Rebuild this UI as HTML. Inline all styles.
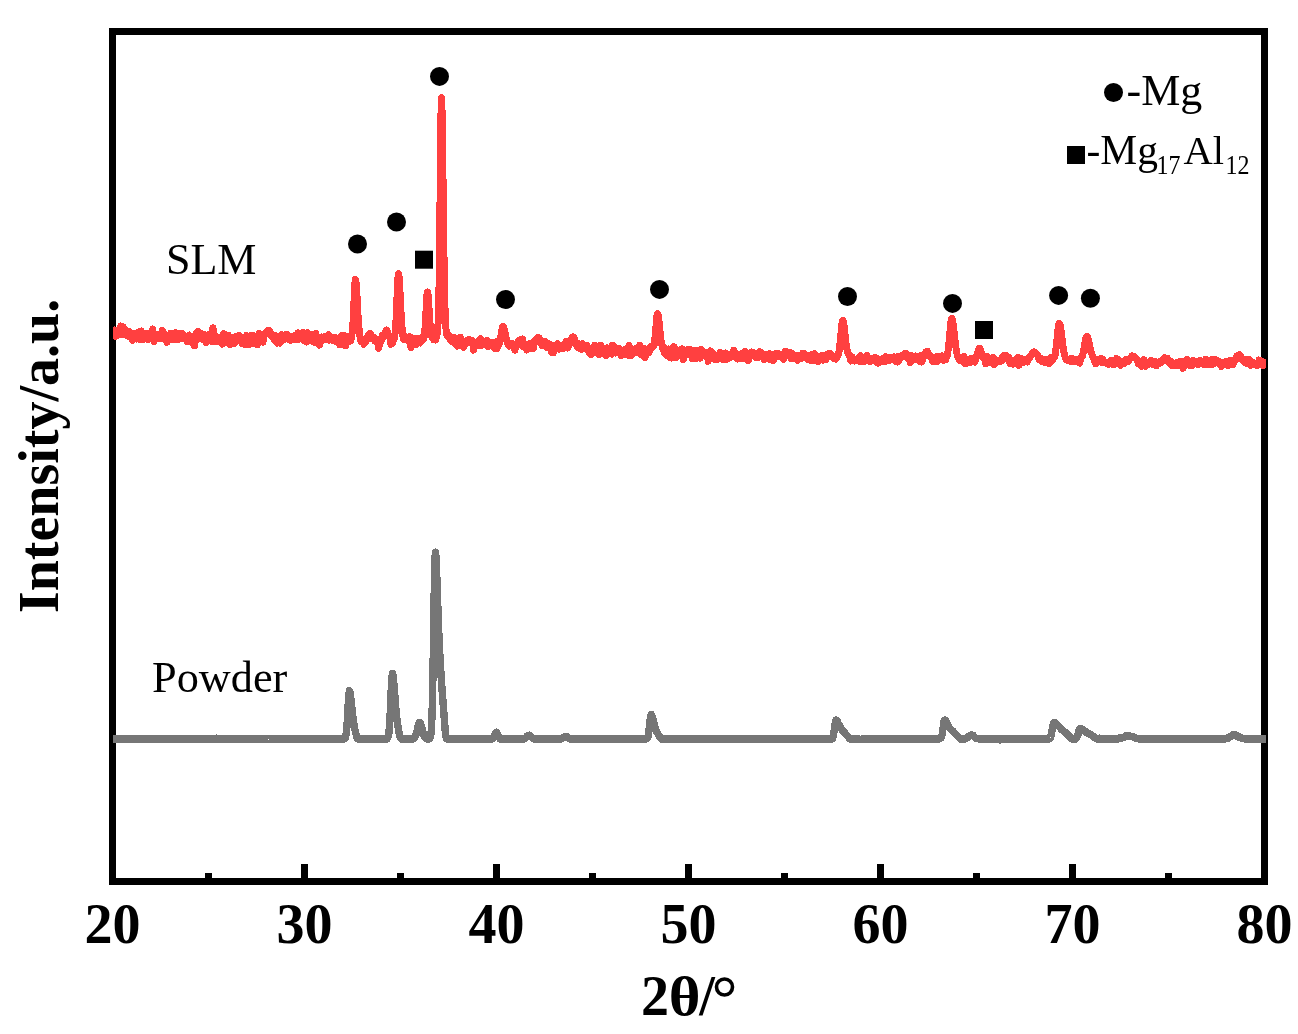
<!DOCTYPE html>
<html><head><meta charset="utf-8"><title>XRD</title>
<style>html,body{margin:0;padding:0;background:#fff;}svg{display:block;will-change:transform;}text{font-family:"Liberation Serif",serif;}</style>
</head><body>
<svg width="1298" height="1034" viewBox="0 0 1298 1034"><rect width="1298" height="1034" fill="#fff"/><rect x="112.5" y="31.5" width="1152" height="850" fill="none" stroke="#000" stroke-width="7"/><defs><clipPath id="pc"><rect x="113" y="0" width="1153" height="1034"/></clipPath></defs><polyline fill="none" stroke="#767676" stroke-width="7.4" clip-path="url(#pc)" stroke-linejoin="round" shape-rendering="crispEdges" points="113.0,739.0 113.5,739.0 114.0,739.0 114.5,739.0 115.0,739.0 115.5,739.0 116.0,739.0 116.5,739.0 117.0,739.0 117.5,739.0 118.0,738.9 118.5,739.1 119.0,738.7 119.5,739.5 120.0,738.5 120.5,739.3 121.0,739.3 121.5,739.2 122.0,739.0 122.5,739.1 123.0,738.8 123.5,739.2 124.0,738.8 124.5,738.9 125.0,739.2 125.5,738.8 126.0,738.9 126.5,739.0 127.0,738.7 127.5,739.2 128.0,739.1 128.5,738.7 129.0,739.0 129.5,738.8 130.0,738.9 130.5,739.0 131.0,738.9 131.5,739.2 132.0,738.9 132.5,739.2 133.0,739.0 133.5,739.2 134.0,738.9 134.5,738.9 135.0,738.8 135.5,739.1 136.0,739.2 136.5,739.4 137.0,739.3 137.5,739.0 138.0,739.0 138.5,739.1 139.0,739.0 139.5,739.3 140.0,739.2 140.5,738.8 141.0,738.9 141.5,739.3 142.0,739.1 142.5,739.0 143.0,739.2 143.5,738.9 144.0,738.9 144.5,738.9 145.0,738.6 145.5,739.2 146.0,738.8 146.5,738.9 147.0,738.9 147.5,739.1 148.0,739.0 148.5,739.0 149.0,738.7 149.5,739.0 150.0,738.7 150.5,739.1 151.0,739.1 151.5,739.0 152.0,739.4 152.5,739.1 153.0,739.1 153.5,739.0 154.0,739.0 154.5,739.2 155.0,739.2 155.5,738.7 156.0,739.2 156.5,739.1 157.0,739.2 157.5,739.1 158.0,738.8 158.5,738.8 159.0,739.4 159.5,739.1 160.0,738.7 160.5,739.1 161.0,738.9 161.5,738.6 162.0,738.5 162.5,738.7 163.0,739.1 163.5,739.0 164.0,739.0 164.5,739.1 165.0,739.1 165.5,738.6 166.0,738.9 166.5,738.8 167.0,738.8 167.5,738.9 168.0,739.0 168.5,738.9 169.0,738.7 169.5,738.9 170.0,739.4 170.5,738.8 171.0,738.7 171.5,739.1 172.0,739.1 172.5,739.1 173.0,738.8 173.5,739.2 174.0,738.8 174.5,738.8 175.0,738.9 175.5,739.0 176.0,739.1 176.5,739.1 177.0,739.0 177.5,739.2 178.0,739.0 178.5,739.2 179.0,738.7 179.5,738.7 180.0,739.2 180.5,738.7 181.0,738.9 181.5,739.0 182.0,738.9 182.5,738.9 183.0,739.3 183.5,738.5 184.0,739.2 184.5,739.5 185.0,739.0 185.5,739.0 186.0,739.1 186.5,739.4 187.0,738.8 187.5,739.0 188.0,739.0 188.5,739.1 189.0,739.0 189.5,739.1 190.0,738.9 190.5,739.0 191.0,738.9 191.5,738.9 192.0,739.0 192.5,739.0 193.0,738.8 193.5,739.3 194.0,739.0 194.5,738.7 195.0,739.2 195.5,738.9 196.0,739.1 196.5,739.0 197.0,739.1 197.5,739.0 198.0,738.9 198.5,739.0 199.0,739.4 199.5,738.6 200.0,739.0 200.5,739.1 201.0,738.8 201.5,738.7 202.0,739.4 202.5,738.9 203.0,739.4 203.5,739.1 204.0,739.0 204.5,739.1 205.0,739.1 205.5,739.2 206.0,739.1 206.5,739.0 207.0,739.0 207.5,739.3 208.0,739.2 208.5,738.8 209.0,738.9 209.5,739.1 210.0,738.9 210.5,738.9 211.0,738.8 211.5,738.9 212.0,739.1 212.5,739.2 213.0,739.0 213.5,739.4 214.0,739.0 214.5,739.6 215.0,739.2 215.5,739.1 216.0,738.9 216.5,738.4 217.0,739.0 217.5,739.0 218.0,739.4 218.5,738.7 219.0,739.4 219.5,738.9 220.0,739.1 220.5,738.5 221.0,739.0 221.5,738.9 222.0,739.1 222.5,739.0 223.0,738.8 223.5,739.2 224.0,739.1 224.5,739.1 225.0,739.2 225.5,739.2 226.0,739.0 226.5,738.7 227.0,738.7 227.5,739.3 228.0,739.1 228.5,739.0 229.0,738.9 229.5,739.0 230.0,739.0 230.5,738.9 231.0,738.9 231.5,739.4 232.0,739.0 232.5,738.9 233.0,738.7 233.5,738.9 234.0,739.1 234.5,739.2 235.0,739.0 235.5,739.0 236.0,738.9 236.5,738.8 237.0,739.3 237.5,739.1 238.0,739.5 238.5,738.8 239.0,739.0 239.5,739.2 240.0,739.0 240.5,738.7 241.0,738.8 241.5,739.0 242.0,739.1 242.5,739.0 243.0,739.2 243.5,739.2 244.0,739.1 244.5,739.0 245.0,738.9 245.5,739.1 246.0,739.2 246.5,739.0 247.0,739.1 247.5,738.9 248.0,738.7 248.5,738.8 249.0,739.2 249.5,739.1 250.0,739.3 250.5,739.0 251.0,739.2 251.5,739.3 252.0,739.2 252.5,738.9 253.0,739.0 253.5,739.0 254.0,738.8 254.5,739.1 255.0,739.2 255.5,738.9 256.0,739.4 256.5,738.9 257.0,739.0 257.5,739.0 258.0,738.9 258.5,739.1 259.0,739.0 259.5,739.3 260.0,739.1 260.5,739.1 261.0,739.0 261.5,738.7 262.0,739.0 262.5,738.8 263.0,739.2 263.5,739.0 264.0,739.3 264.5,739.1 265.0,739.2 265.5,739.0 266.0,739.0 266.5,739.1 267.0,739.2 267.5,738.9 268.0,739.1 268.5,739.5 269.0,739.0 269.5,738.9 270.0,738.9 270.5,738.7 271.0,739.2 271.5,739.0 272.0,739.1 272.5,739.4 273.0,739.5 273.5,738.8 274.0,739.2 274.5,739.1 275.0,739.1 275.5,739.1 276.0,739.0 276.5,739.3 277.0,739.1 277.5,739.1 278.0,739.2 278.5,739.2 279.0,739.1 279.5,739.1 280.0,739.4 280.5,739.1 281.0,739.0 281.5,738.8 282.0,738.9 282.5,738.8 283.0,739.0 283.5,739.1 284.0,738.6 284.5,739.0 285.0,739.1 285.5,739.0 286.0,738.8 286.5,739.3 287.0,738.9 287.5,738.8 288.0,738.8 288.5,739.0 289.0,739.2 289.5,739.2 290.0,739.0 290.5,738.8 291.0,738.9 291.5,738.8 292.0,739.0 292.5,738.6 293.0,739.0 293.5,739.1 294.0,739.0 294.5,739.1 295.0,738.8 295.5,738.7 296.0,738.9 296.5,739.2 297.0,739.2 297.5,738.9 298.0,739.2 298.5,738.9 299.0,739.3 299.5,739.1 300.0,738.9 300.5,739.2 301.0,738.8 301.5,738.8 302.0,738.7 302.5,739.1 303.0,739.0 303.5,739.0 304.0,738.9 304.5,739.3 305.0,738.9 305.5,738.9 306.0,739.2 306.5,739.3 307.0,739.1 307.5,738.7 308.0,738.9 308.5,739.1 309.0,739.0 309.5,739.3 310.0,738.7 310.5,739.1 311.0,738.9 311.5,739.3 312.0,739.0 312.5,739.2 313.0,738.9 313.5,738.7 314.0,738.8 314.5,738.9 315.0,738.8 315.5,739.2 316.0,739.3 316.5,739.1 317.0,738.8 317.5,739.0 318.0,738.9 318.5,739.3 319.0,739.1 319.5,739.1 320.0,738.9 320.5,738.6 321.0,738.8 321.5,738.8 322.0,739.1 322.5,739.0 323.0,738.8 323.5,738.9 324.0,739.3 324.5,738.8 325.0,738.8 325.5,739.0 326.0,738.9 326.5,738.9 327.0,739.1 327.5,739.3 328.0,738.6 328.5,739.0 329.0,739.0 329.5,739.0 330.0,739.0 330.5,738.9 331.0,739.2 331.5,738.9 332.0,739.0 332.5,739.0 333.0,739.0 333.5,739.0 334.0,739.2 334.5,739.0 335.0,739.0 335.5,739.0 336.0,738.8 336.5,738.8 337.0,738.8 337.5,739.0 338.0,738.9 338.5,738.8 339.0,739.0 339.5,739.1 340.0,738.6 340.5,739.3 341.0,739.0 341.5,739.0 342.0,739.2 342.5,739.0 343.0,738.9 343.5,739.4 344.0,738.7 344.5,738.7 345.0,738.4 345.5,737.0 346.0,735.1 346.5,731.4 347.0,725.9 347.5,717.2 348.0,708.2 348.5,699.7 349.0,693.4 349.5,690.8 350.0,692.0 350.5,695.1 351.0,699.4 351.5,704.2 352.0,709.1 352.5,713.6 353.0,717.9 353.5,721.4 354.0,724.9 354.5,727.8 355.0,730.0 355.5,732.3 356.0,734.0 356.5,736.2 357.0,737.8 357.5,738.3 358.0,738.9 358.5,738.9 359.0,739.2 359.5,739.1 360.0,739.0 360.5,739.0 361.0,739.0 361.5,738.8 362.0,739.1 362.5,738.9 363.0,739.1 363.5,739.0 364.0,739.2 364.5,739.0 365.0,739.2 365.5,738.8 366.0,739.1 366.5,739.0 367.0,739.0 367.5,739.0 368.0,739.2 368.5,738.6 369.0,739.1 369.5,738.7 370.0,739.2 370.5,738.6 371.0,738.8 371.5,738.7 372.0,739.3 372.5,738.7 373.0,739.0 373.5,738.9 374.0,738.6 374.5,738.9 375.0,739.1 375.5,739.0 376.0,739.2 376.5,738.9 377.0,739.0 377.5,738.9 378.0,739.1 378.5,739.4 379.0,739.1 379.5,739.0 380.0,738.9 380.5,738.8 381.0,739.3 381.5,738.8 382.0,738.8 382.5,739.0 383.0,738.9 383.5,739.4 384.0,738.5 384.5,739.1 385.0,739.1 385.5,738.8 386.0,738.8 386.5,739.0 387.0,739.1 387.5,738.2 388.0,737.1 388.5,735.7 389.0,732.3 389.5,726.1 390.0,717.2 390.5,707.0 391.0,694.6 391.5,684.0 392.0,676.3 392.5,673.4 393.0,674.9 393.5,679.6 394.0,685.3 394.5,691.0 395.0,697.9 395.5,704.8 396.0,710.2 396.5,715.1 397.0,719.9 397.5,723.6 398.0,726.9 398.5,729.7 399.0,732.3 399.5,734.7 400.0,736.8 400.5,737.9 401.0,738.7 401.5,738.9 402.0,739.3 402.5,739.1 403.0,739.0 403.5,739.1 404.0,739.1 404.5,739.2 405.0,739.1 405.5,739.4 406.0,739.3 406.5,739.0 407.0,738.9 407.5,739.2 408.0,739.1 408.5,739.0 409.0,738.7 409.5,738.6 410.0,739.1 410.5,739.2 411.0,739.2 411.5,738.7 412.0,739.2 412.5,738.8 413.0,738.9 413.5,738.8 414.0,738.3 414.5,738.0 415.0,737.0 415.5,736.2 416.0,734.6 416.5,733.3 417.0,731.0 417.5,728.8 418.0,726.4 418.5,724.3 419.0,723.1 419.5,722.4 420.0,722.8 420.5,723.7 421.0,724.8 421.5,726.7 422.0,728.6 422.5,730.5 423.0,732.6 423.5,734.4 424.0,735.3 424.5,736.4 425.0,736.9 425.5,737.9 426.0,738.2 426.5,738.2 427.0,738.8 427.5,739.0 428.0,738.8 428.5,738.9 429.0,738.7 429.5,738.9 430.0,737.8 430.5,736.7 431.0,734.1 431.5,727.5 432.0,716.3 432.5,698.0 433.0,672.1 433.5,640.2 434.0,606.2 434.5,576.2 435.0,557.6 435.5,552.2 436.0,557.3 436.5,567.9 437.0,581.9 437.5,596.5 438.0,611.7 438.5,625.2 439.0,637.6 439.5,648.2 440.0,657.7 440.5,666.5 441.0,674.3 441.5,681.4 442.0,688.6 442.5,695.4 443.0,702.0 443.5,708.4 444.0,714.8 444.5,721.7 445.0,728.1 445.5,733.3 446.0,736.8 446.5,738.4 447.0,739.1 447.5,739.0 448.0,739.0 448.5,738.8 449.0,738.9 449.5,739.0 450.0,738.8 450.5,738.7 451.0,738.9 451.5,739.2 452.0,739.0 452.5,739.3 453.0,739.0 453.5,738.9 454.0,738.7 454.5,738.9 455.0,739.3 455.5,739.1 456.0,739.1 456.5,739.1 457.0,739.0 457.5,739.0 458.0,739.0 458.5,739.1 459.0,739.1 459.5,739.1 460.0,739.0 460.5,738.8 461.0,738.9 461.5,738.8 462.0,739.2 462.5,738.6 463.0,739.0 463.5,739.5 464.0,738.9 464.5,738.8 465.0,739.0 465.5,739.3 466.0,739.0 466.5,739.1 467.0,739.0 467.5,738.9 468.0,739.6 468.5,739.0 469.0,738.9 469.5,738.9 470.0,739.1 470.5,739.1 471.0,739.2 471.5,739.0 472.0,738.7 472.5,739.1 473.0,738.9 473.5,738.9 474.0,738.7 474.5,738.9 475.0,738.9 475.5,739.0 476.0,738.7 476.5,739.0 477.0,739.0 477.5,738.8 478.0,738.9 478.5,738.8 479.0,739.2 479.5,738.5 480.0,738.9 480.5,738.7 481.0,738.9 481.5,739.2 482.0,738.9 482.5,739.0 483.0,738.8 483.5,739.4 484.0,739.2 484.5,739.2 485.0,738.7 485.5,738.8 486.0,739.2 486.5,739.0 487.0,738.9 487.5,739.1 488.0,738.7 488.5,739.2 489.0,739.0 489.5,739.1 490.0,738.9 490.5,739.1 491.0,738.8 491.5,739.1 492.0,739.0 492.5,738.8 493.0,738.3 493.5,737.7 494.0,736.1 494.5,735.6 495.0,734.2 495.5,733.2 496.0,732.5 496.5,732.2 497.0,732.9 497.5,734.2 498.0,735.5 498.5,736.3 499.0,737.2 499.5,738.4 500.0,738.3 500.5,739.2 501.0,738.9 501.5,738.8 502.0,739.2 502.5,739.3 503.0,738.7 503.5,739.3 504.0,738.9 504.5,739.3 505.0,738.9 505.5,738.7 506.0,739.1 506.5,739.2 507.0,739.4 507.5,739.3 508.0,739.1 508.5,739.0 509.0,738.9 509.5,738.9 510.0,738.8 510.5,738.9 511.0,738.5 511.5,739.0 512.0,739.0 512.5,739.5 513.0,739.2 513.5,738.9 514.0,739.1 514.5,738.8 515.0,738.9 515.5,738.6 516.0,739.3 516.5,739.1 517.0,738.8 517.5,739.0 518.0,739.2 518.5,739.1 519.0,739.1 519.5,738.8 520.0,738.9 520.5,739.0 521.0,739.2 521.5,738.8 522.0,738.8 522.5,739.2 523.0,738.7 523.5,739.1 524.0,738.8 524.5,738.7 525.0,738.6 525.5,738.1 526.0,737.6 526.5,736.7 527.0,736.2 527.5,735.9 528.0,735.7 528.5,735.3 529.0,735.5 529.5,735.2 530.0,735.6 530.5,736.2 531.0,736.6 531.5,737.1 532.0,737.5 532.5,738.3 533.0,738.2 533.5,738.7 534.0,738.5 534.5,739.1 535.0,738.7 535.5,739.1 536.0,738.7 536.5,738.9 537.0,739.2 537.5,738.8 538.0,739.0 538.5,738.9 539.0,738.5 539.5,739.1 540.0,739.1 540.5,738.8 541.0,739.1 541.5,738.8 542.0,738.8 542.5,739.0 543.0,738.9 543.5,739.5 544.0,738.7 544.5,739.1 545.0,739.2 545.5,738.6 546.0,738.7 546.5,739.1 547.0,738.9 547.5,739.1 548.0,739.2 548.5,738.9 549.0,738.8 549.5,738.5 550.0,739.0 550.5,738.8 551.0,739.1 551.5,739.0 552.0,738.7 552.5,739.3 553.0,739.2 553.5,739.2 554.0,738.8 554.5,738.9 555.0,738.9 555.5,738.9 556.0,738.8 556.5,739.1 557.0,739.0 557.5,739.1 558.0,738.9 558.5,739.3 559.0,739.0 559.5,738.4 560.0,738.8 560.5,738.9 561.0,739.0 561.5,738.6 562.0,738.5 562.5,738.1 563.0,738.1 563.5,737.5 564.0,737.1 564.5,736.8 565.0,736.8 565.5,736.4 566.0,736.2 566.5,736.8 567.0,736.7 567.5,737.3 568.0,737.6 568.5,738.2 569.0,738.4 569.5,738.4 570.0,738.6 570.5,738.5 571.0,739.2 571.5,739.0 572.0,739.2 572.5,738.9 573.0,738.6 573.5,739.3 574.0,739.0 574.5,739.0 575.0,739.0 575.5,739.1 576.0,739.1 576.5,738.7 577.0,739.2 577.5,738.9 578.0,738.9 578.5,739.3 579.0,739.2 579.5,738.9 580.0,738.6 580.5,739.0 581.0,739.1 581.5,739.0 582.0,738.8 582.5,738.8 583.0,738.7 583.5,739.0 584.0,739.2 584.5,739.2 585.0,738.9 585.5,739.0 586.0,739.1 586.5,738.9 587.0,739.0 587.5,739.4 588.0,739.0 588.5,739.2 589.0,738.9 589.5,739.0 590.0,738.7 590.5,739.0 591.0,739.2 591.5,739.4 592.0,739.2 592.5,739.1 593.0,739.0 593.5,738.9 594.0,739.0 594.5,739.1 595.0,738.8 595.5,739.2 596.0,738.8 596.5,738.6 597.0,738.8 597.5,738.7 598.0,738.7 598.5,739.2 599.0,739.0 599.5,739.0 600.0,739.2 600.5,739.3 601.0,738.9 601.5,739.3 602.0,739.1 602.5,739.0 603.0,739.1 603.5,738.7 604.0,738.8 604.5,739.0 605.0,739.1 605.5,738.9 606.0,739.0 606.5,739.2 607.0,739.3 607.5,739.2 608.0,739.3 608.5,738.9 609.0,738.9 609.5,739.1 610.0,738.9 610.5,738.9 611.0,739.3 611.5,739.0 612.0,738.8 612.5,739.1 613.0,739.4 613.5,739.0 614.0,739.2 614.5,738.9 615.0,738.9 615.5,738.9 616.0,739.0 616.5,739.4 617.0,738.8 617.5,739.3 618.0,738.8 618.5,739.0 619.0,739.2 619.5,739.1 620.0,739.1 620.5,738.7 621.0,739.1 621.5,738.8 622.0,739.5 622.5,739.0 623.0,739.0 623.5,738.8 624.0,738.9 624.5,738.7 625.0,739.2 625.5,738.9 626.0,739.1 626.5,738.9 627.0,738.9 627.5,739.3 628.0,738.8 628.5,738.6 629.0,739.1 629.5,738.8 630.0,738.9 630.5,739.2 631.0,738.8 631.5,739.2 632.0,738.9 632.5,739.3 633.0,739.3 633.5,738.9 634.0,739.0 634.5,738.8 635.0,739.0 635.5,739.2 636.0,738.7 636.5,739.2 637.0,738.7 637.5,738.8 638.0,738.6 638.5,739.4 639.0,739.0 639.5,739.0 640.0,738.9 640.5,739.2 641.0,738.6 641.5,739.0 642.0,739.4 642.5,738.9 643.0,739.0 643.5,739.1 644.0,738.8 644.5,739.0 645.0,739.2 645.5,739.0 646.0,739.0 646.5,738.8 647.0,738.6 647.5,737.8 648.0,736.7 648.5,734.1 649.0,730.2 649.5,725.1 650.0,720.9 650.5,717.2 651.0,714.9 651.5,714.6 652.0,715.8 652.5,717.8 653.0,719.2 653.5,721.2 654.0,723.3 654.5,725.3 655.0,726.8 655.5,728.4 656.0,729.7 656.5,731.4 657.0,732.4 657.5,733.2 658.0,733.9 658.5,734.9 659.0,736.0 659.5,736.5 660.0,737.6 660.5,738.2 661.0,738.7 661.5,739.0 662.0,739.1 662.5,738.8 663.0,738.9 663.5,739.5 664.0,738.8 664.5,738.9 665.0,739.2 665.5,739.0 666.0,738.8 666.5,738.7 667.0,739.1 667.5,739.2 668.0,739.3 668.5,739.0 669.0,739.2 669.5,738.8 670.0,739.0 670.5,738.9 671.0,739.0 671.5,739.2 672.0,739.2 672.5,738.8 673.0,739.3 673.5,738.9 674.0,738.8 674.5,739.0 675.0,738.7 675.5,739.0 676.0,739.1 676.5,739.0 677.0,739.1 677.5,738.9 678.0,739.0 678.5,738.7 679.0,739.0 679.5,738.8 680.0,738.9 680.5,739.0 681.0,739.0 681.5,738.7 682.0,738.7 682.5,738.9 683.0,739.1 683.5,739.1 684.0,739.2 684.5,739.3 685.0,739.1 685.5,739.0 686.0,738.8 686.5,738.8 687.0,738.9 687.5,739.1 688.0,739.0 688.5,739.0 689.0,739.0 689.5,739.1 690.0,739.0 690.5,739.1 691.0,739.1 691.5,738.9 692.0,738.8 692.5,739.1 693.0,739.1 693.5,739.0 694.0,738.9 694.5,739.5 695.0,738.8 695.5,739.0 696.0,739.1 696.5,738.8 697.0,739.0 697.5,739.4 698.0,739.2 698.5,739.1 699.0,739.1 699.5,739.0 700.0,739.2 700.5,739.0 701.0,738.9 701.5,739.0 702.0,739.2 702.5,739.1 703.0,739.1 703.5,738.6 704.0,739.2 704.5,739.5 705.0,739.3 705.5,738.9 706.0,738.8 706.5,739.1 707.0,738.8 707.5,739.1 708.0,738.9 708.5,739.2 709.0,739.3 709.5,738.6 710.0,739.1 710.5,738.9 711.0,738.7 711.5,738.9 712.0,739.0 712.5,739.2 713.0,738.7 713.5,739.2 714.0,739.4 714.5,739.1 715.0,739.1 715.5,739.0 716.0,738.8 716.5,739.1 717.0,739.1 717.5,739.1 718.0,739.5 718.5,739.1 719.0,739.1 719.5,739.3 720.0,738.7 720.5,738.8 721.0,738.9 721.5,738.9 722.0,739.1 722.5,738.9 723.0,739.3 723.5,739.3 724.0,739.2 724.5,738.9 725.0,739.1 725.5,739.2 726.0,738.8 726.5,739.1 727.0,739.1 727.5,739.0 728.0,739.3 728.5,739.2 729.0,738.8 729.5,739.0 730.0,738.8 730.5,739.1 731.0,738.8 731.5,739.2 732.0,739.1 732.5,739.2 733.0,739.0 733.5,738.7 734.0,739.4 734.5,739.0 735.0,739.3 735.5,739.1 736.0,739.1 736.5,739.4 737.0,739.1 737.5,739.3 738.0,738.7 738.5,739.2 739.0,739.0 739.5,739.0 740.0,739.0 740.5,739.1 741.0,739.3 741.5,738.6 742.0,739.0 742.5,738.9 743.0,739.2 743.5,738.9 744.0,739.1 744.5,738.9 745.0,739.1 745.5,739.2 746.0,738.9 746.5,739.0 747.0,738.7 747.5,739.1 748.0,739.2 748.5,738.9 749.0,739.2 749.5,738.6 750.0,738.6 750.5,738.7 751.0,738.9 751.5,739.0 752.0,739.0 752.5,739.0 753.0,739.1 753.5,738.9 754.0,738.7 754.5,738.8 755.0,739.4 755.5,738.5 756.0,739.0 756.5,739.3 757.0,739.1 757.5,738.8 758.0,739.0 758.5,739.2 759.0,739.2 759.5,738.8 760.0,739.2 760.5,739.1 761.0,739.2 761.5,739.3 762.0,738.9 762.5,738.7 763.0,739.1 763.5,739.4 764.0,739.1 764.5,739.0 765.0,739.5 765.5,738.8 766.0,739.2 766.5,738.9 767.0,739.0 767.5,739.0 768.0,739.3 768.5,738.8 769.0,738.9 769.5,738.7 770.0,739.1 770.5,738.9 771.0,739.1 771.5,738.8 772.0,738.9 772.5,739.2 773.0,739.0 773.5,739.1 774.0,739.1 774.5,738.9 775.0,738.7 775.5,739.2 776.0,739.0 776.5,739.2 777.0,738.6 777.5,738.7 778.0,738.6 778.5,738.8 779.0,739.2 779.5,739.1 780.0,739.0 780.5,739.0 781.0,739.2 781.5,738.9 782.0,739.1 782.5,739.0 783.0,738.6 783.5,738.9 784.0,739.3 784.5,738.9 785.0,739.0 785.5,738.9 786.0,738.9 786.5,739.2 787.0,738.9 787.5,738.8 788.0,738.4 788.5,738.9 789.0,738.6 789.5,738.6 790.0,739.2 790.5,739.1 791.0,738.6 791.5,739.2 792.0,739.1 792.5,738.8 793.0,739.1 793.5,738.7 794.0,738.8 794.5,738.7 795.0,738.8 795.5,739.2 796.0,738.7 796.5,738.8 797.0,738.8 797.5,739.0 798.0,738.9 798.5,739.2 799.0,738.9 799.5,738.7 800.0,738.9 800.5,739.0 801.0,738.8 801.5,739.1 802.0,739.4 802.5,738.9 803.0,739.0 803.5,739.3 804.0,738.9 804.5,738.8 805.0,738.8 805.5,739.1 806.0,739.1 806.5,739.0 807.0,739.0 807.5,739.3 808.0,739.2 808.5,738.7 809.0,739.0 809.5,739.0 810.0,739.1 810.5,739.0 811.0,738.9 811.5,738.9 812.0,738.6 812.5,739.0 813.0,738.9 813.5,739.1 814.0,738.8 814.5,738.9 815.0,738.8 815.5,738.8 816.0,739.1 816.5,738.9 817.0,739.1 817.5,738.8 818.0,739.0 818.5,738.7 819.0,738.9 819.5,738.9 820.0,739.1 820.5,739.0 821.0,739.0 821.5,739.2 822.0,739.0 822.5,739.1 823.0,739.1 823.5,739.0 824.0,738.9 824.5,739.1 825.0,738.9 825.5,739.1 826.0,739.2 826.5,739.2 827.0,738.9 827.5,738.7 828.0,739.0 828.5,739.0 829.0,739.2 829.5,738.9 830.0,738.9 830.5,739.1 831.0,738.9 831.5,738.8 832.0,739.0 832.5,738.4 833.0,737.1 833.5,735.1 834.0,731.9 834.5,728.6 835.0,724.7 835.5,721.7 836.0,720.0 836.5,720.0 837.0,720.6 837.5,721.7 838.0,723.1 838.5,724.0 839.0,724.6 839.5,725.8 840.0,726.6 840.5,727.5 841.0,728.5 841.5,729.2 842.0,729.6 842.5,730.4 843.0,730.8 843.5,731.2 844.0,731.8 844.5,732.5 845.0,733.5 845.5,733.6 846.0,734.6 846.5,735.2 847.0,735.5 847.5,736.1 848.0,736.6 848.5,737.3 849.0,738.0 849.5,738.4 850.0,738.9 850.5,739.2 851.0,739.0 851.5,739.1 852.0,739.0 852.5,739.1 853.0,738.8 853.5,739.1 854.0,739.0 854.5,738.8 855.0,739.4 855.5,738.8 856.0,738.8 856.5,739.0 857.0,738.6 857.5,738.8 858.0,738.7 858.5,738.8 859.0,739.0 859.5,739.1 860.0,739.2 860.5,739.2 861.0,739.2 861.5,739.1 862.0,738.9 862.5,739.2 863.0,738.9 863.5,738.9 864.0,739.3 864.5,739.1 865.0,739.0 865.5,739.1 866.0,739.2 866.5,738.7 867.0,739.0 867.5,738.8 868.0,739.0 868.5,738.9 869.0,739.3 869.5,739.1 870.0,738.8 870.5,739.0 871.0,738.7 871.5,739.0 872.0,739.1 872.5,739.0 873.0,738.6 873.5,738.9 874.0,739.1 874.5,739.0 875.0,739.2 875.5,738.7 876.0,739.1 876.5,738.9 877.0,739.0 877.5,739.1 878.0,739.1 878.5,738.9 879.0,739.0 879.5,738.8 880.0,738.7 880.5,739.1 881.0,739.0 881.5,738.7 882.0,738.8 882.5,739.0 883.0,739.3 883.5,739.2 884.0,739.1 884.5,738.6 885.0,739.0 885.5,739.1 886.0,739.1 886.5,739.1 887.0,738.9 887.5,739.3 888.0,739.3 888.5,739.0 889.0,738.8 889.5,739.4 890.0,738.9 890.5,739.2 891.0,739.4 891.5,738.8 892.0,739.0 892.5,738.9 893.0,739.1 893.5,739.1 894.0,739.4 894.5,739.1 895.0,739.0 895.5,739.2 896.0,738.9 896.5,738.9 897.0,739.4 897.5,738.8 898.0,738.9 898.5,739.0 899.0,738.8 899.5,738.6 900.0,739.2 900.5,738.8 901.0,738.9 901.5,738.9 902.0,738.8 902.5,738.8 903.0,739.0 903.5,739.5 904.0,739.1 904.5,739.1 905.0,738.7 905.5,739.0 906.0,738.8 906.5,739.1 907.0,738.9 907.5,739.0 908.0,739.0 908.5,738.9 909.0,738.7 909.5,739.1 910.0,738.7 910.5,738.8 911.0,738.9 911.5,738.8 912.0,739.0 912.5,739.2 913.0,739.0 913.5,739.0 914.0,739.0 914.5,739.2 915.0,738.6 915.5,739.1 916.0,738.8 916.5,738.7 917.0,739.0 917.5,738.9 918.0,739.1 918.5,739.2 919.0,738.5 919.5,739.0 920.0,739.4 920.5,739.2 921.0,739.3 921.5,739.0 922.0,738.7 922.5,738.8 923.0,739.1 923.5,739.2 924.0,738.8 924.5,738.9 925.0,739.0 925.5,738.6 926.0,738.9 926.5,739.3 927.0,739.4 927.5,739.0 928.0,739.4 928.5,738.9 929.0,738.8 929.5,738.5 930.0,739.2 930.5,738.9 931.0,739.5 931.5,739.1 932.0,739.0 932.5,738.6 933.0,739.3 933.5,738.9 934.0,739.0 934.5,738.5 935.0,739.2 935.5,739.2 936.0,738.9 936.5,739.0 937.0,739.1 937.5,739.2 938.0,739.0 938.5,739.3 939.0,738.9 939.5,738.8 940.0,738.8 940.5,738.1 941.0,737.9 941.5,737.2 942.0,735.1 942.5,732.0 943.0,728.6 943.5,724.3 944.0,721.7 944.5,720.3 945.0,720.1 945.5,720.4 946.0,721.7 946.5,722.9 947.0,723.5 947.5,724.8 948.0,725.2 948.5,726.0 949.0,727.2 949.5,727.8 950.0,728.4 950.5,728.8 951.0,729.4 951.5,730.1 952.0,730.8 952.5,730.9 953.0,731.1 953.5,732.2 954.0,732.6 954.5,733.1 955.0,733.5 955.5,734.4 956.0,734.5 956.5,735.1 957.0,735.1 957.5,735.9 958.0,736.3 958.5,737.0 959.0,737.6 959.5,737.8 960.0,738.8 960.5,738.6 961.0,738.8 961.5,739.0 962.0,738.7 962.5,739.1 963.0,739.1 963.5,738.9 964.0,739.3 964.5,738.9 965.0,738.9 965.5,738.5 966.0,738.2 966.5,738.3 967.0,738.1 967.5,737.7 968.0,737.6 968.5,736.5 969.0,736.3 969.5,735.7 970.0,735.9 970.5,735.2 971.0,735.0 971.5,734.8 972.0,735.2 972.5,735.2 973.0,735.7 973.5,735.6 974.0,736.7 974.5,737.0 975.0,737.5 975.5,738.0 976.0,738.1 976.5,738.4 977.0,738.7 977.5,738.8 978.0,738.8 978.5,738.9 979.0,738.8 979.5,739.1 980.0,739.2 980.5,739.0 981.0,739.4 981.5,738.7 982.0,738.9 982.5,739.3 983.0,738.9 983.5,738.7 984.0,739.3 984.5,739.1 985.0,738.8 985.5,739.1 986.0,738.8 986.5,738.7 987.0,739.0 987.5,738.9 988.0,738.8 988.5,738.9 989.0,738.8 989.5,739.0 990.0,739.0 990.5,739.1 991.0,738.9 991.5,738.7 992.0,738.7 992.5,738.9 993.0,739.3 993.5,739.2 994.0,738.9 994.5,739.2 995.0,738.8 995.5,739.2 996.0,738.9 996.5,739.1 997.0,739.1 997.5,738.9 998.0,739.1 998.5,738.8 999.0,739.0 999.5,739.2 1000.0,739.8 1000.5,739.1 1001.0,739.0 1001.5,738.8 1002.0,739.2 1002.5,738.7 1003.0,738.8 1003.5,739.1 1004.0,738.7 1004.5,739.3 1005.0,739.2 1005.5,738.9 1006.0,738.9 1006.5,738.7 1007.0,738.7 1007.5,739.1 1008.0,739.1 1008.5,739.1 1009.0,739.0 1009.5,738.9 1010.0,739.1 1010.5,738.7 1011.0,739.0 1011.5,739.3 1012.0,739.3 1012.5,738.9 1013.0,738.9 1013.5,739.3 1014.0,739.3 1014.5,738.7 1015.0,738.9 1015.5,739.0 1016.0,739.2 1016.5,738.8 1017.0,739.1 1017.5,738.9 1018.0,739.5 1018.5,739.1 1019.0,739.0 1019.5,738.9 1020.0,739.2 1020.5,739.1 1021.0,738.8 1021.5,739.0 1022.0,738.7 1022.5,738.8 1023.0,738.7 1023.5,738.7 1024.0,738.9 1024.5,738.8 1025.0,739.1 1025.5,739.2 1026.0,738.9 1026.5,738.8 1027.0,739.2 1027.5,738.6 1028.0,738.6 1028.5,739.1 1029.0,739.1 1029.5,739.2 1030.0,738.9 1030.5,738.7 1031.0,738.9 1031.5,739.1 1032.0,738.8 1032.5,738.9 1033.0,738.7 1033.5,738.8 1034.0,739.2 1034.5,739.1 1035.0,738.8 1035.5,738.8 1036.0,738.9 1036.5,739.1 1037.0,738.8 1037.5,739.0 1038.0,738.6 1038.5,738.7 1039.0,739.1 1039.5,739.2 1040.0,738.8 1040.5,738.8 1041.0,739.2 1041.5,738.9 1042.0,738.9 1042.5,739.1 1043.0,739.0 1043.5,739.2 1044.0,739.2 1044.5,738.9 1045.0,739.0 1045.5,739.0 1046.0,738.7 1046.5,738.8 1047.0,739.2 1047.5,738.7 1048.0,739.2 1048.5,739.0 1049.0,738.8 1049.5,738.7 1050.0,738.2 1050.5,737.5 1051.0,735.7 1051.5,733.6 1052.0,730.9 1052.5,728.4 1053.0,725.5 1053.5,723.2 1054.0,722.5 1054.5,722.3 1055.0,722.8 1055.5,723.3 1056.0,724.2 1056.5,723.9 1057.0,724.9 1057.5,725.3 1058.0,725.6 1058.5,726.1 1059.0,726.6 1059.5,727.1 1060.0,727.8 1060.5,727.8 1061.0,728.8 1061.5,729.0 1062.0,729.8 1062.5,730.1 1063.0,730.7 1063.5,731.1 1064.0,731.7 1064.5,731.9 1065.0,732.2 1065.5,733.0 1066.0,733.5 1066.5,734.2 1067.0,733.9 1067.5,734.7 1068.0,735.5 1068.5,735.5 1069.0,736.2 1069.5,737.1 1070.0,737.5 1070.5,737.5 1071.0,738.4 1071.5,738.8 1072.0,739.0 1072.5,739.0 1073.0,739.0 1073.5,738.8 1074.0,738.9 1074.5,739.1 1075.0,738.9 1075.5,739.2 1076.0,738.5 1076.5,737.5 1077.0,737.1 1077.5,736.0 1078.0,734.3 1078.5,732.4 1079.0,730.4 1079.5,729.6 1080.0,728.5 1080.5,728.6 1081.0,728.7 1081.5,728.8 1082.0,729.6 1082.5,729.2 1083.0,729.8 1083.5,730.4 1084.0,730.6 1084.5,731.1 1085.0,731.2 1085.5,731.5 1086.0,732.3 1086.5,732.2 1087.0,732.5 1087.5,732.7 1088.0,733.1 1088.5,733.7 1089.0,734.0 1089.5,734.2 1090.0,734.3 1090.5,734.9 1091.0,734.8 1091.5,735.4 1092.0,735.7 1092.5,735.9 1093.0,736.5 1093.5,736.6 1094.0,736.9 1094.5,737.7 1095.0,737.9 1095.5,738.3 1096.0,738.4 1096.5,738.8 1097.0,739.0 1097.5,739.2 1098.0,739.5 1098.5,739.0 1099.0,739.0 1099.5,739.0 1100.0,738.3 1100.5,738.7 1101.0,739.0 1101.5,739.1 1102.0,738.9 1102.5,739.2 1103.0,739.3 1103.5,738.9 1104.0,739.3 1104.5,739.3 1105.0,739.1 1105.5,738.8 1106.0,739.3 1106.5,739.0 1107.0,738.9 1107.5,739.0 1108.0,738.9 1108.5,739.2 1109.0,739.2 1109.5,739.2 1110.0,739.1 1110.5,738.8 1111.0,739.0 1111.5,739.2 1112.0,738.9 1112.5,739.6 1113.0,738.9 1113.5,738.9 1114.0,739.2 1114.5,739.1 1115.0,739.0 1115.5,738.9 1116.0,739.0 1116.5,739.1 1117.0,739.0 1117.5,738.8 1118.0,738.9 1118.5,738.9 1119.0,738.8 1119.5,737.9 1120.0,738.3 1120.5,738.2 1121.0,738.1 1121.5,738.1 1122.0,738.0 1122.5,737.8 1123.0,737.4 1123.5,737.2 1124.0,737.4 1124.5,736.7 1125.0,736.7 1125.5,736.7 1126.0,736.3 1126.5,735.6 1127.0,736.0 1127.5,735.7 1128.0,735.7 1128.5,735.9 1129.0,735.8 1129.5,735.7 1130.0,736.0 1130.5,736.1 1131.0,736.2 1131.5,736.4 1132.0,736.6 1132.5,736.6 1133.0,736.8 1133.5,737.2 1134.0,737.2 1134.5,737.3 1135.0,738.0 1135.5,737.9 1136.0,738.1 1136.5,738.2 1137.0,738.4 1137.5,738.5 1138.0,738.6 1138.5,738.5 1139.0,738.9 1139.5,738.7 1140.0,739.1 1140.5,738.5 1141.0,738.7 1141.5,739.1 1142.0,738.9 1142.5,738.8 1143.0,739.1 1143.5,738.8 1144.0,739.0 1144.5,738.5 1145.0,738.9 1145.5,738.9 1146.0,739.1 1146.5,739.2 1147.0,738.8 1147.5,739.3 1148.0,738.9 1148.5,738.6 1149.0,738.5 1149.5,739.3 1150.0,739.0 1150.5,738.9 1151.0,738.9 1151.5,738.8 1152.0,739.3 1152.5,739.0 1153.0,739.4 1153.5,739.0 1154.0,738.5 1154.5,739.2 1155.0,738.9 1155.5,739.0 1156.0,739.3 1156.5,738.9 1157.0,739.2 1157.5,739.0 1158.0,738.8 1158.5,739.1 1159.0,738.9 1159.5,739.2 1160.0,739.2 1160.5,739.0 1161.0,739.1 1161.5,739.1 1162.0,738.9 1162.5,739.2 1163.0,739.0 1163.5,739.1 1164.0,738.8 1164.5,739.0 1165.0,739.1 1165.5,738.8 1166.0,738.9 1166.5,738.9 1167.0,739.1 1167.5,738.9 1168.0,739.1 1168.5,739.3 1169.0,739.1 1169.5,738.7 1170.0,739.0 1170.5,739.2 1171.0,738.9 1171.5,739.2 1172.0,739.1 1172.5,739.1 1173.0,738.9 1173.5,738.9 1174.0,739.0 1174.5,739.0 1175.0,739.1 1175.5,739.1 1176.0,738.9 1176.5,739.0 1177.0,739.1 1177.5,738.7 1178.0,738.8 1178.5,738.8 1179.0,739.0 1179.5,738.9 1180.0,739.0 1180.5,738.8 1181.0,739.1 1181.5,739.1 1182.0,738.7 1182.5,739.0 1183.0,738.8 1183.5,739.3 1184.0,738.9 1184.5,738.9 1185.0,739.0 1185.5,739.0 1186.0,739.0 1186.5,739.3 1187.0,739.0 1187.5,739.2 1188.0,739.2 1188.5,738.8 1189.0,739.3 1189.5,739.1 1190.0,739.2 1190.5,738.8 1191.0,739.2 1191.5,739.1 1192.0,738.9 1192.5,739.5 1193.0,739.1 1193.5,739.0 1194.0,739.0 1194.5,739.2 1195.0,739.2 1195.5,739.1 1196.0,739.2 1196.5,739.3 1197.0,738.8 1197.5,738.9 1198.0,738.8 1198.5,739.0 1199.0,739.3 1199.5,739.1 1200.0,738.8 1200.5,738.9 1201.0,739.2 1201.5,738.9 1202.0,739.0 1202.5,739.1 1203.0,738.6 1203.5,739.2 1204.0,739.1 1204.5,739.1 1205.0,738.8 1205.5,738.9 1206.0,738.9 1206.5,739.1 1207.0,739.0 1207.5,739.0 1208.0,739.4 1208.5,739.3 1209.0,738.9 1209.5,738.9 1210.0,739.3 1210.5,738.9 1211.0,739.3 1211.5,739.3 1212.0,738.9 1212.5,739.0 1213.0,739.0 1213.5,738.8 1214.0,738.8 1214.5,738.9 1215.0,739.2 1215.5,738.9 1216.0,739.0 1216.5,738.9 1217.0,738.7 1217.5,739.3 1218.0,738.5 1218.5,738.9 1219.0,739.1 1219.5,738.7 1220.0,739.1 1220.5,739.2 1221.0,738.8 1221.5,739.0 1222.0,738.7 1222.5,739.0 1223.0,738.9 1223.5,738.9 1224.0,739.1 1224.5,738.9 1225.0,739.0 1225.5,738.8 1226.0,738.3 1226.5,738.4 1227.0,738.3 1227.5,737.7 1228.0,738.1 1228.5,737.6 1229.0,737.4 1229.5,736.8 1230.0,736.7 1230.5,736.5 1231.0,736.1 1231.5,735.9 1232.0,735.2 1232.5,735.6 1233.0,735.0 1233.5,734.6 1234.0,734.8 1234.5,734.8 1235.0,735.2 1235.5,735.0 1236.0,735.4 1236.5,735.4 1237.0,736.2 1237.5,736.2 1238.0,736.8 1238.5,736.5 1239.0,737.1 1239.5,737.1 1240.0,737.6 1240.5,737.9 1241.0,737.7 1241.5,738.0 1242.0,738.1 1242.5,738.2 1243.0,738.5 1243.5,738.5 1244.0,738.5 1244.5,738.9 1245.0,739.0 1245.5,738.7 1246.0,738.8 1246.5,739.0 1247.0,738.9 1247.5,738.8 1248.0,739.2 1248.5,739.2 1249.0,739.1 1249.5,739.0 1250.0,739.4 1250.5,739.3 1251.0,738.9 1251.5,739.0 1252.0,739.2 1252.5,738.8 1253.0,739.1 1253.5,739.0 1254.0,738.9 1254.5,739.0 1255.0,738.7 1255.5,738.9 1256.0,738.6 1256.5,739.5 1257.0,739.3 1257.5,739.2 1258.0,739.1 1258.5,739.0 1259.0,739.0 1259.5,739.0 1260.0,739.0 1260.5,739.0 1261.0,739.0 1261.5,739.0 1262.0,739.0 1262.5,739.0 1263.0,739.0 1263.5,739.0 1264.0,739.0 1264.5,739.0 1265.0,739.0 1265.5,739.0 1266.0,739.0"/><polyline fill="none" stroke="#ff4040" stroke-width="7" clip-path="url(#pc)" stroke-linejoin="round" shape-rendering="crispEdges" points="113.0,333.9 113.4,333.9 113.8,332.1 114.2,330.4 114.6,330.1 115.0,330.6 115.4,334.3 115.8,336.6 116.2,333.4 116.6,332.2 117.0,334.7 117.4,335.5 117.8,333.4 118.2,331.6 118.6,333.6 119.0,334.0 119.4,330.9 119.8,328.7 120.2,327.0 120.6,326.1 121.0,327.5 121.4,329.6 121.8,331.0 122.2,333.5 122.6,334.8 123.0,330.8 123.4,327.0 123.8,329.7 124.2,333.7 124.6,332.7 125.0,330.1 125.4,330.1 125.8,330.4 126.2,332.6 126.6,335.2 127.0,333.9 127.4,334.7 127.8,336.2 128.2,334.2 128.6,333.9 129.0,335.0 129.4,333.6 129.8,331.9 130.2,335.3 130.6,336.5 131.0,333.8 131.4,335.4 131.8,335.6 132.2,336.1 132.6,340.3 133.0,338.1 133.4,333.2 133.8,334.6 134.2,336.5 134.6,336.4 135.0,336.7 135.4,336.9 135.8,338.8 136.2,339.0 136.6,335.8 137.0,334.5 137.4,334.7 137.8,333.7 138.2,332.0 138.6,332.4 139.0,335.5 139.4,339.1 139.8,338.0 140.2,332.8 140.6,332.9 141.0,333.9 141.4,331.0 141.8,332.0 142.2,336.6 142.6,339.8 143.0,338.8 143.4,335.5 143.8,334.3 144.2,336.9 144.6,339.0 145.0,336.5 145.4,335.3 145.8,336.5 146.2,336.1 146.6,334.2 147.0,333.2 147.4,334.3 147.8,336.7 148.2,339.6 148.6,339.5 149.0,338.0 149.4,337.7 149.8,337.8 150.2,338.7 150.6,338.6 151.0,336.4 151.4,334.5 151.8,333.7 152.2,330.2 152.6,329.0 153.0,332.2 153.4,334.2 153.8,338.8 154.2,341.5 154.6,336.6 155.0,334.3 155.4,337.1 155.8,338.0 156.2,336.7 156.6,336.9 157.0,338.9 157.4,337.7 157.8,334.8 158.2,335.4 158.6,335.5 159.0,334.6 159.4,335.1 159.8,336.3 160.2,338.5 160.6,338.7 161.0,336.7 161.4,335.4 161.8,333.4 162.2,330.4 162.6,332.1 163.0,333.8 163.4,333.2 163.8,334.3 164.2,334.7 164.6,335.7 165.0,336.9 165.4,338.2 165.8,336.5 166.2,335.0 166.6,340.2 167.0,342.3 167.4,338.5 167.8,336.2 168.2,335.3 168.6,336.0 169.0,338.1 169.4,337.2 169.8,335.5 170.2,334.5 170.6,333.2 171.0,334.9 171.4,338.7 171.8,339.8 172.2,339.6 172.6,337.8 173.0,335.3 173.4,335.0 173.8,335.6 174.2,336.3 174.6,336.2 175.0,334.6 175.4,332.7 175.8,335.9 176.2,339.8 176.6,336.6 177.0,334.5 177.4,338.9 177.8,339.7 178.2,335.5 178.6,334.5 179.0,333.6 179.4,333.4 179.8,337.3 180.2,338.6 180.6,336.9 181.0,336.5 181.4,337.3 181.8,336.8 182.2,335.4 182.6,333.4 183.0,335.1 183.4,339.0 183.8,338.6 184.2,337.9 184.6,337.6 185.0,336.1 185.4,336.9 185.8,338.5 186.2,337.8 186.6,337.2 187.0,339.3 187.4,341.8 187.8,341.6 188.2,339.1 188.6,335.4 189.0,335.1 189.4,339.9 189.8,341.5 190.2,339.6 190.6,340.3 191.0,341.8 191.4,342.3 191.8,340.9 192.2,340.1 192.6,339.8 193.0,338.1 193.4,339.4 193.8,341.6 194.2,343.4 194.6,345.8 195.0,342.9 195.4,335.2 195.8,333.7 196.2,337.0 196.6,336.8 197.0,338.1 197.4,338.4 197.8,332.8 198.2,331.5 198.6,336.5 199.0,338.6 199.4,338.0 199.8,337.2 200.2,334.6 200.6,333.5 201.0,335.0 201.4,333.9 201.8,333.9 202.2,337.7 202.6,339.5 203.0,338.3 203.4,335.8 203.8,334.5 204.2,334.2 204.6,335.4 205.0,337.0 205.4,337.4 205.8,339.0 206.2,342.4 206.6,342.3 207.0,338.8 207.4,339.0 207.8,339.5 208.2,336.8 208.6,334.6 209.0,336.7 209.4,339.9 209.8,339.5 210.2,338.5 210.6,339.6 211.0,341.2 211.4,337.4 211.8,332.5 212.2,332.0 212.6,329.1 213.0,327.8 213.4,335.2 213.8,341.5 214.2,339.2 214.6,334.9 215.0,336.5 215.4,340.7 215.8,340.7 216.2,339.1 216.6,338.9 217.0,339.9 217.4,341.6 217.8,341.5 218.2,338.9 218.6,337.3 219.0,338.1 219.4,339.3 219.8,339.3 220.2,337.1 220.6,337.1 221.0,337.2 221.4,337.9 221.8,343.4 222.2,344.2 222.6,340.6 223.0,340.8 223.4,337.7 223.8,333.5 224.2,336.4 224.6,339.4 225.0,337.9 225.4,336.3 225.8,336.9 226.2,339.8 226.6,342.2 227.0,341.4 227.4,341.4 227.8,342.2 228.2,339.2 228.6,335.4 229.0,336.2 229.4,342.0 229.8,344.6 230.2,343.5 230.6,342.1 231.0,340.6 231.4,339.6 231.8,338.7 232.2,338.6 232.6,341.0 233.0,343.7 233.4,342.4 233.8,339.2 234.2,337.1 234.6,339.0 235.0,343.1 235.4,342.6 235.8,339.7 236.2,337.3 236.6,336.2 237.0,339.0 237.4,341.0 237.8,339.3 238.2,338.1 238.6,338.8 239.0,337.5 239.4,335.5 239.8,335.9 240.2,338.2 240.6,339.6 241.0,339.4 241.4,341.8 241.8,343.4 242.2,339.8 242.6,337.8 243.0,339.2 243.4,338.4 243.8,337.6 244.2,341.7 244.6,344.5 245.0,340.9 245.4,337.3 245.8,337.0 246.2,337.4 246.6,335.4 247.0,336.7 247.4,340.0 247.8,340.0 248.2,342.7 248.6,344.6 249.0,342.4 249.4,343.3 249.8,344.4 250.2,340.4 250.6,336.0 251.0,335.4 251.4,339.5 251.8,344.0 252.2,342.2 252.6,337.1 253.0,335.5 253.4,337.3 253.8,339.1 254.2,339.3 254.6,339.8 255.0,339.8 255.4,338.8 255.8,338.9 256.2,339.5 256.6,339.8 257.0,342.4 257.4,344.8 257.8,342.7 258.2,337.9 258.6,335.6 259.0,335.7 259.4,333.3 259.8,334.5 260.2,340.1 260.6,341.2 261.0,337.3 261.4,334.4 261.8,335.3 262.2,337.2 262.6,340.7 263.0,342.3 263.4,338.8 263.8,335.1 264.2,334.3 264.6,334.7 265.0,334.0 265.4,333.1 265.8,332.4 266.2,331.9 266.6,331.8 267.0,331.4 267.4,330.6 267.8,330.1 268.2,330.1 268.6,330.2 269.0,330.5 269.4,330.9 269.8,331.1 270.2,332.0 270.6,333.7 271.0,334.8 271.4,335.9 271.8,336.3 272.2,334.5 272.6,334.8 273.0,337.5 273.4,338.4 273.8,338.8 274.2,340.3 274.6,338.7 275.0,335.1 275.4,336.1 275.8,340.0 276.2,338.5 276.6,336.4 277.0,340.3 277.4,343.2 277.8,342.1 278.2,339.1 278.6,336.3 279.0,338.7 279.4,343.1 279.8,343.2 280.2,341.5 280.6,339.3 281.0,336.4 281.4,334.6 281.8,337.0 282.2,339.1 282.6,338.2 283.0,340.2 283.4,339.5 283.8,336.1 284.2,335.8 284.6,337.0 285.0,337.4 285.4,336.4 285.8,335.7 286.2,335.8 286.6,334.4 287.0,334.4 287.4,338.1 287.8,338.9 288.2,336.1 288.6,336.1 289.0,336.0 289.4,336.6 289.8,338.9 290.2,340.2 290.6,340.6 291.0,339.0 291.4,338.3 291.8,337.6 292.2,337.2 292.6,338.9 293.0,339.6 293.4,339.8 293.8,337.9 294.2,335.8 294.6,337.1 295.0,339.7 295.4,339.8 295.8,337.5 296.2,335.3 296.6,335.2 297.0,336.7 297.4,334.6 297.8,332.9 298.2,337.5 298.6,339.2 299.0,334.9 299.4,333.2 299.8,334.1 300.2,335.4 300.6,337.1 301.0,336.2 301.4,336.6 301.8,338.2 302.2,338.0 302.6,337.6 303.0,335.4 303.4,332.5 303.8,335.1 304.2,340.5 304.6,340.4 305.0,338.9 305.4,339.1 305.8,339.2 306.2,341.3 306.6,342.1 307.0,336.8 307.4,332.8 307.8,333.1 308.2,335.4 308.6,340.0 309.0,340.6 309.4,336.0 309.8,334.2 310.2,338.1 310.6,338.5 311.0,334.7 311.4,335.7 311.8,338.4 312.2,339.0 312.6,337.5 313.0,335.4 313.4,334.1 313.8,336.7 314.2,342.2 314.6,342.3 315.0,338.2 315.4,334.5 315.8,333.4 316.2,336.1 316.6,338.7 317.0,339.0 317.4,337.7 317.8,336.5 318.2,337.9 318.6,340.7 319.0,344.5 319.4,345.1 319.8,340.4 320.2,337.4 320.6,337.7 321.0,337.1 321.4,337.0 321.8,337.3 322.2,337.8 322.6,339.7 323.0,340.3 323.4,339.9 323.8,338.7 324.2,336.7 324.6,336.4 325.0,337.4 325.4,338.4 325.8,339.6 326.2,338.4 326.6,336.7 327.0,336.8 327.4,336.1 327.8,336.5 328.2,336.1 328.6,334.8 329.0,337.9 329.4,340.2 329.8,339.2 330.2,338.3 330.6,337.5 331.0,337.0 331.4,337.6 331.8,338.5 332.2,338.2 332.6,337.7 333.0,339.4 333.4,340.5 333.8,339.4 334.2,339.6 334.6,339.0 335.0,337.5 335.4,339.6 335.8,341.6 336.2,341.5 336.6,340.7 337.0,338.9 337.4,339.6 337.8,341.9 338.2,342.2 338.6,339.5 339.0,337.7 339.4,341.1 339.8,344.7 340.2,344.2 340.6,340.2 341.0,338.2 341.4,340.5 341.8,338.2 342.2,335.0 342.6,336.7 343.0,336.0 343.4,335.1 343.8,338.9 344.2,341.9 344.6,341.1 345.0,342.3 345.4,345.9 345.8,345.3 346.2,341.4 346.6,338.2 347.0,336.5 347.4,337.8 347.8,340.6 348.2,341.3 348.6,341.5 349.0,341.1 349.4,339.1 349.8,339.4 350.2,341.0 350.6,341.1 351.0,340.2 351.4,337.7 351.8,335.1 352.2,332.0 352.6,327.6 353.0,321.9 353.4,314.5 353.8,306.0 354.2,297.0 354.6,288.7 355.0,282.5 355.4,279.6 355.8,280.2 356.2,283.7 356.6,289.2 357.0,296.2 357.4,303.7 357.8,311.1 358.2,317.9 358.6,323.7 359.0,328.1 359.4,331.7 359.8,335.0 360.2,337.9 360.6,340.5 361.0,341.3 361.4,340.6 361.8,340.7 362.2,340.7 362.6,339.4 363.0,340.0 363.4,343.3 363.8,344.2 364.2,341.4 364.6,339.8 365.0,341.3 365.4,342.1 365.8,341.7 366.2,340.6 366.6,338.3 367.0,337.3 367.4,337.7 367.8,338.0 368.2,336.8 368.6,334.6 369.0,334.1 369.4,334.2 369.8,333.7 370.2,333.6 370.6,334.7 371.0,335.7 371.4,335.9 371.8,336.6 372.2,337.7 372.6,338.7 373.0,339.1 373.4,337.8 373.8,337.4 374.2,338.7 374.6,339.5 375.0,341.0 375.4,340.5 375.8,338.8 376.2,339.2 376.6,340.7 377.0,341.3 377.4,339.6 377.8,340.1 378.2,344.9 378.6,348.5 379.0,347.0 379.4,342.9 379.8,342.5 380.2,343.6 380.6,340.7 381.0,338.3 381.4,339.9 381.8,340.2 382.2,337.3 382.6,335.0 383.0,336.1 383.4,337.4 383.8,336.4 384.2,335.4 384.6,334.5 385.0,333.1 385.4,331.8 385.8,330.7 386.2,330.1 386.6,330.0 387.0,330.6 387.4,331.8 387.8,332.9 388.2,333.8 388.6,335.0 389.0,336.7 389.4,337.5 389.8,336.3 390.2,336.2 390.6,340.0 391.0,344.3 391.4,343.4 391.8,341.0 392.2,342.6 392.6,343.5 393.0,340.5 393.4,339.4 393.8,340.2 394.2,339.0 394.6,336.4 395.0,333.6 395.4,329.6 395.8,323.8 396.2,316.4 396.6,307.6 397.0,297.8 397.4,288.1 397.8,280.0 398.2,274.8 398.6,273.6 399.0,276.0 399.4,281.0 399.8,288.0 400.2,296.1 400.6,304.5 401.0,312.3 401.4,319.3 401.8,325.0 402.2,329.6 402.6,333.4 403.0,336.7 403.4,339.3 403.8,338.3 404.2,336.0 404.6,335.8 405.0,336.6 405.4,338.1 405.8,338.0 406.2,336.9 406.6,337.6 407.0,338.1 407.4,339.4 407.8,340.2 408.2,339.6 408.6,339.5 409.0,338.8 409.4,337.2 409.8,336.6 410.2,340.7 410.6,346.2 411.0,347.7 411.4,345.9 411.8,342.7 412.2,341.4 412.6,342.8 413.0,341.9 413.4,340.2 413.8,340.1 414.2,340.1 414.6,339.8 415.0,339.0 415.4,338.1 415.8,341.1 416.2,344.8 416.6,342.6 417.0,340.6 417.4,342.2 417.8,341.5 418.2,338.9 418.6,340.0 419.0,342.4 419.4,342.1 419.8,342.5 420.2,342.9 420.6,340.7 421.0,339.4 421.4,340.8 421.8,340.6 422.2,337.5 422.6,336.8 423.0,338.7 423.4,339.6 423.8,339.0 424.2,336.0 424.6,332.3 425.0,328.0 425.4,322.2 425.8,315.2 426.2,307.5 426.6,300.3 427.0,294.7 427.4,292.0 427.8,292.7 428.2,296.0 428.6,301.4 429.0,307.8 429.4,314.5 429.8,320.8 430.2,326.0 430.6,330.1 431.0,333.0 431.4,335.0 431.8,336.8 432.2,336.7 432.6,336.4 433.0,338.5 433.4,339.5 433.8,339.4 434.2,339.6 434.6,339.6 435.0,339.7 435.4,339.9 435.8,339.2 436.2,338.3 436.6,336.7 437.0,334.8 437.4,332.8 437.8,328.7 438.2,320.9 438.6,307.9 439.0,287.9 439.4,259.8 439.8,224.2 440.2,183.8 440.6,144.2 441.0,113.0 441.4,97.8 441.8,101.1 442.2,118.0 442.6,144.8 443.0,177.2 443.4,210.9 443.8,242.4 444.2,269.5 444.6,291.2 445.0,307.4 445.4,318.8 445.8,326.3 446.2,331.0 446.6,333.8 447.0,335.5 447.4,336.0 447.8,336.3 448.2,336.3 448.6,335.3 449.0,335.8 449.4,337.9 449.8,339.2 450.2,338.2 450.6,336.7 451.0,338.5 451.4,341.3 451.8,341.6 452.2,339.8 452.6,339.3 453.0,340.3 453.4,339.1 453.8,337.4 454.2,339.5 454.6,342.8 455.0,343.5 455.4,342.7 455.8,341.9 456.2,341.7 456.6,340.6 457.0,342.5 457.4,346.3 457.8,344.4 458.2,340.8 458.6,340.8 459.0,342.9 459.4,343.4 459.8,339.8 460.2,337.1 460.6,339.0 461.0,341.2 461.4,342.9 461.8,344.4 462.2,344.2 462.6,342.3 463.0,340.9 463.4,344.2 463.8,347.4 464.2,345.5 464.6,343.0 465.0,344.0 465.4,344.4 465.8,341.4 466.2,340.9 466.6,343.2 467.0,343.2 467.4,341.9 467.8,341.6 468.2,341.6 468.6,341.5 469.0,340.4 469.4,339.2 469.8,341.4 470.2,342.6 470.6,340.5 471.0,341.1 471.4,341.9 471.8,340.6 472.2,340.2 472.6,341.2 473.0,345.8 473.4,350.3 473.8,348.6 474.2,344.7 474.6,343.7 475.0,343.5 475.4,344.3 475.8,344.4 476.2,342.4 476.6,343.3 477.0,345.0 477.4,345.7 477.8,343.8 478.2,341.7 478.6,343.4 479.0,344.6 479.4,344.2 479.8,343.3 480.2,340.0 480.6,338.8 481.0,343.3 481.4,345.6 481.8,344.2 482.2,344.5 482.6,344.9 483.0,342.5 483.4,341.0 483.8,343.3 484.2,344.1 484.6,342.9 485.0,343.7 485.4,342.1 485.8,341.8 486.2,344.9 486.6,343.3 487.0,340.3 487.4,342.4 487.8,346.5 488.2,346.7 488.6,344.5 489.0,344.9 489.4,345.0 489.8,343.6 490.2,343.9 490.6,343.6 491.0,342.2 491.4,342.4 491.8,343.6 492.2,343.5 492.6,342.3 493.0,343.6 493.4,346.1 493.8,346.5 494.2,347.3 494.6,348.0 495.0,348.8 495.4,348.4 495.8,345.4 496.2,344.5 496.6,346.0 497.0,348.9 497.4,347.0 497.8,340.8 498.2,340.7 498.6,344.0 499.0,344.5 499.4,342.8 499.8,340.8 500.2,339.2 500.6,337.2 501.0,334.9 501.4,332.4 501.8,330.0 502.2,328.1 502.6,326.9 503.0,326.4 503.4,326.8 503.8,327.7 504.2,329.1 504.6,330.8 505.0,332.5 505.4,334.4 505.8,336.4 506.2,338.7 506.6,340.5 507.0,341.8 507.4,343.1 507.8,343.4 508.2,343.7 508.6,345.5 509.0,346.1 509.4,344.4 509.8,343.5 510.2,344.1 510.6,343.8 511.0,344.0 511.4,345.5 511.8,345.5 512.2,344.5 512.6,344.0 513.0,345.2 513.4,345.7 513.8,346.6 514.2,349.1 514.6,349.7 515.0,350.1 515.4,348.2 515.8,344.3 516.2,344.1 516.6,345.7 517.0,345.8 517.4,345.1 517.8,342.8 518.2,341.0 518.6,340.6 519.0,340.8 519.4,343.0 519.8,343.5 520.2,342.9 520.6,344.5 521.0,344.3 521.4,340.9 521.8,339.2 522.2,339.3 522.6,339.1 523.0,343.0 523.4,346.7 523.8,345.6 524.2,344.4 524.6,343.7 525.0,344.4 525.4,345.1 525.8,345.7 526.2,348.5 526.6,350.0 527.0,348.0 527.4,345.1 527.8,344.4 528.2,345.6 528.6,346.6 529.0,347.1 529.4,348.2 529.8,347.1 530.2,343.1 530.6,343.9 531.0,346.6 531.4,344.9 531.8,343.3 532.2,342.8 532.6,342.5 533.0,345.7 533.4,348.6 533.8,346.1 534.2,342.3 534.6,341.2 535.0,341.8 535.4,341.5 535.8,340.2 536.2,339.5 536.6,339.5 537.0,338.9 537.4,338.0 537.8,337.4 538.2,337.3 538.6,337.5 539.0,337.9 539.4,339.0 539.8,339.9 540.2,341.3 540.6,343.2 541.0,343.4 541.4,342.8 541.8,344.6 542.2,345.7 542.6,343.8 543.0,342.9 543.4,343.1 543.8,344.0 544.2,344.8 544.6,341.7 545.0,341.3 545.4,344.3 545.8,345.7 546.2,346.6 546.6,346.8 547.0,347.3 547.4,346.3 547.8,343.2 548.2,343.5 548.6,345.1 549.0,346.2 549.4,346.1 549.8,344.2 550.2,345.1 550.6,347.9 551.0,347.4 551.4,347.6 551.8,352.5 552.2,352.0 552.6,346.3 553.0,348.3 553.4,353.0 553.8,351.1 554.2,347.7 554.6,345.9 555.0,345.2 555.4,345.2 555.8,346.1 556.2,347.3 556.6,346.3 557.0,344.2 557.4,343.8 557.8,344.5 558.2,344.7 558.6,346.6 559.0,349.2 559.4,349.2 559.8,348.6 560.2,348.2 560.6,347.3 561.0,346.4 561.4,347.0 561.8,347.1 562.2,347.0 562.6,348.7 563.0,347.8 563.4,345.1 563.8,344.7 564.2,345.5 564.6,346.1 565.0,347.0 565.4,347.9 565.8,344.5 566.2,341.4 566.6,341.8 567.0,342.7 567.4,345.7 567.8,348.1 568.2,346.4 568.6,343.6 569.0,344.0 569.4,345.0 569.8,343.6 570.2,342.3 570.6,341.8 571.0,340.9 571.4,339.5 571.8,338.3 572.2,337.6 572.6,337.2 573.0,336.9 573.4,337.0 573.8,337.5 574.2,338.2 574.6,339.1 575.0,340.6 575.4,342.1 575.8,342.5 576.2,343.1 576.6,344.4 577.0,346.1 577.4,347.1 577.8,346.1 578.2,344.4 578.6,343.5 579.0,345.3 579.4,348.2 579.8,347.9 580.2,346.1 580.6,346.8 581.0,348.7 581.4,349.1 581.8,347.8 582.2,345.8 582.6,343.7 583.0,346.3 583.4,348.8 583.8,345.8 584.2,346.3 584.6,348.7 585.0,347.7 585.4,347.0 585.8,348.2 586.2,349.0 586.6,347.1 587.0,345.2 587.4,346.2 587.8,346.9 588.2,347.6 588.6,350.0 589.0,351.9 589.4,351.5 589.8,350.4 590.2,352.2 590.6,354.1 591.0,354.6 591.4,353.6 591.8,350.7 592.2,350.1 592.6,349.9 593.0,348.1 593.4,348.3 593.8,348.6 594.2,346.8 594.6,345.1 595.0,346.4 595.4,350.0 595.8,352.9 596.2,353.0 596.6,350.8 597.0,348.9 597.4,348.7 597.8,350.0 598.2,350.8 598.6,353.1 599.0,354.6 599.4,350.6 599.8,346.4 600.2,345.6 600.6,345.3 601.0,347.8 601.4,352.2 601.8,350.7 602.2,348.3 602.6,351.6 603.0,353.4 603.4,350.4 603.8,348.4 604.2,349.4 604.6,351.4 605.0,353.3 605.4,354.8 605.8,355.4 606.2,355.6 606.6,355.2 607.0,351.7 607.4,347.9 607.8,349.0 608.2,350.7 608.6,351.0 609.0,351.7 609.4,349.8 609.8,349.8 610.2,353.3 610.6,353.6 611.0,352.7 611.4,353.8 611.8,354.0 612.2,349.9 612.6,345.2 613.0,346.2 613.4,348.0 613.8,348.3 614.2,351.2 614.6,352.7 615.0,349.7 615.4,349.9 615.8,353.1 616.2,350.5 616.6,347.9 617.0,350.3 617.4,351.0 617.8,350.4 618.2,351.0 618.6,349.5 619.0,348.5 619.4,350.9 619.8,351.8 620.2,350.5 620.6,350.6 621.0,353.7 621.4,355.6 621.8,353.5 622.2,352.7 622.6,351.9 623.0,351.1 623.4,352.9 623.8,354.5 624.2,354.5 624.6,352.0 625.0,349.3 625.4,349.5 625.8,351.8 626.2,353.8 626.6,354.5 627.0,354.0 627.4,354.8 627.8,355.0 628.2,351.1 628.6,346.7 629.0,345.4 629.4,348.3 629.8,351.7 630.2,351.9 630.6,353.0 631.0,354.9 631.4,355.8 631.8,354.4 632.2,351.4 632.6,350.4 633.0,350.9 633.4,350.7 633.8,349.9 634.2,351.8 634.6,352.3 635.0,349.3 635.4,348.7 635.8,349.4 636.2,351.1 636.6,352.6 637.0,352.3 637.4,350.7 637.8,349.5 638.2,350.8 638.6,351.3 639.0,351.6 639.4,349.2 639.8,345.1 640.2,347.0 640.6,352.0 641.0,354.4 641.4,353.1 641.8,350.2 642.2,349.7 642.6,354.0 643.0,355.7 643.4,352.4 643.8,348.8 644.2,348.3 644.6,353.5 645.0,357.5 645.4,356.0 645.8,354.4 646.2,352.1 646.6,350.7 647.0,351.2 647.4,349.5 647.8,349.4 648.2,351.8 648.6,353.0 649.0,352.6 649.4,351.0 649.8,348.4 650.2,347.6 650.6,348.9 651.0,348.2 651.4,346.5 651.8,346.8 652.2,346.9 652.6,345.9 653.0,345.4 653.4,346.0 653.8,346.2 654.2,344.8 654.6,341.6 655.0,337.6 655.4,333.3 655.8,328.5 656.2,323.6 656.6,319.1 657.0,315.6 657.4,313.7 657.8,313.7 658.2,315.0 658.6,317.5 659.0,320.8 659.4,324.7 659.8,328.7 660.2,332.8 660.6,336.6 661.0,339.9 661.4,342.8 661.8,345.0 662.2,345.9 662.6,347.4 663.0,349.2 663.4,348.2 663.8,347.0 664.2,349.4 664.6,353.3 665.0,352.7 665.4,351.3 665.8,353.2 666.2,352.8 666.6,353.5 667.0,355.7 667.4,354.8 667.8,352.0 668.2,350.5 668.6,351.4 669.0,349.0 669.4,349.4 669.8,355.7 670.2,357.8 670.6,355.4 671.0,353.6 671.4,355.7 671.8,358.1 672.2,356.8 672.6,352.7 673.0,350.0 673.4,348.9 673.8,346.6 674.2,347.3 674.6,350.2 675.0,350.7 675.4,351.3 675.8,354.2 676.2,357.5 676.6,357.0 677.0,355.1 677.4,354.3 677.8,352.2 678.2,352.4 678.6,353.1 679.0,351.2 679.4,350.0 679.8,350.3 680.2,353.6 680.6,355.6 681.0,353.4 681.4,352.0 681.8,350.6 682.2,348.9 682.6,351.1 683.0,357.1 683.4,359.6 683.8,355.8 684.2,353.1 684.6,353.7 685.0,354.2 685.4,354.9 685.8,355.0 686.2,354.9 686.6,354.4 687.0,352.6 687.4,350.6 687.8,349.5 688.2,349.8 688.6,350.4 689.0,351.1 689.4,351.8 689.8,353.5 690.2,353.4 690.6,350.7 691.0,350.0 691.4,351.9 691.8,356.0 692.2,358.6 692.6,356.8 693.0,355.4 693.4,354.9 693.8,353.8 694.2,354.7 694.6,351.5 695.0,350.5 695.4,357.9 695.8,358.5 696.2,353.7 696.6,353.1 697.0,353.9 697.4,352.6 697.8,350.7 698.2,351.8 698.6,354.5 699.0,356.1 699.4,356.7 699.8,357.7 700.2,358.0 700.6,355.3 701.0,352.2 701.4,349.6 701.8,351.3 702.2,354.7 702.6,354.2 703.0,354.3 703.4,353.7 703.8,351.9 704.2,352.2 704.6,352.5 705.0,353.6 705.4,355.9 705.8,355.8 706.2,353.0 706.6,352.4 707.0,354.0 707.4,355.5 707.8,358.8 708.2,361.3 708.6,358.5 709.0,355.0 709.4,353.3 709.8,351.9 710.2,351.0 710.6,351.4 711.0,352.4 711.4,354.1 711.8,355.2 712.2,354.4 712.6,352.7 713.0,353.7 713.4,357.1 713.8,358.9 714.2,359.3 714.6,359.3 715.0,358.0 715.4,356.3 715.8,358.4 716.2,359.4 716.6,356.1 717.0,357.4 717.4,359.5 717.8,357.9 718.2,357.9 718.6,357.3 719.0,355.2 719.4,354.2 719.8,352.9 720.2,352.2 720.6,352.9 721.0,354.2 721.4,355.5 721.8,354.6 722.2,354.6 722.6,358.5 723.0,359.8 723.4,357.2 723.8,354.9 724.2,355.0 724.6,356.4 725.0,354.8 725.4,353.0 725.8,357.7 726.2,359.6 726.6,355.3 727.0,355.6 727.4,356.7 727.8,356.6 728.2,356.6 728.6,354.4 729.0,355.8 729.4,358.0 729.8,355.9 730.2,354.4 730.6,354.7 731.0,356.0 731.4,357.0 731.8,355.9 732.2,354.9 732.6,354.4 733.0,355.3 733.4,353.3 733.8,350.3 734.2,351.9 734.6,353.0 735.0,355.0 735.4,356.9 735.8,353.8 736.2,353.8 736.6,357.3 737.0,358.6 737.4,358.9 737.8,356.8 738.2,354.1 738.6,355.8 739.0,358.8 739.4,358.6 739.8,356.6 740.2,355.6 740.6,354.9 741.0,356.3 741.4,358.8 741.8,356.5 742.2,353.1 742.6,354.4 743.0,357.3 743.4,357.5 743.8,355.5 744.2,354.4 744.6,353.6 745.0,351.4 745.4,352.5 745.8,355.7 746.2,356.0 746.6,357.3 747.0,359.1 747.4,358.3 747.8,358.6 748.2,360.6 748.6,358.9 749.0,356.6 749.4,357.4 749.8,356.6 750.2,354.8 750.6,355.2 751.0,353.9 751.4,352.0 751.8,353.6 752.2,354.9 752.6,353.4 753.0,352.2 753.4,353.8 753.8,355.8 754.2,355.2 754.6,354.6 755.0,355.1 755.4,354.2 755.8,355.8 756.2,357.7 756.6,355.6 757.0,355.5 757.4,357.3 757.8,356.2 758.2,355.5 758.6,357.3 759.0,356.3 759.4,352.3 759.8,351.6 760.2,352.5 760.6,352.5 761.0,352.8 761.4,354.1 761.8,355.2 762.2,355.0 762.6,356.0 763.0,356.4 763.4,355.4 763.8,357.4 764.2,359.7 764.6,357.8 765.0,355.4 765.4,354.8 765.8,354.8 766.2,356.8 766.6,357.4 767.0,355.4 767.4,356.2 767.8,357.8 768.2,356.7 768.6,355.3 769.0,353.9 769.4,353.5 769.8,356.7 770.2,359.5 770.6,357.2 771.0,354.6 771.4,354.8 771.8,356.2 772.2,357.7 772.6,359.2 773.0,360.5 773.4,360.0 773.8,359.5 774.2,358.8 774.6,356.6 775.0,354.4 775.4,354.9 775.8,356.1 776.2,354.1 776.6,353.3 777.0,355.9 777.4,356.3 777.8,355.2 778.2,355.5 778.6,356.3 779.0,356.0 779.4,353.9 779.8,354.1 780.2,356.4 780.6,356.8 781.0,355.6 781.4,354.6 781.8,354.6 782.2,356.9 782.6,357.8 783.0,357.2 783.4,359.2 783.8,359.2 784.2,357.4 784.6,356.4 785.0,353.3 785.4,351.2 785.8,352.6 786.2,354.6 786.6,355.4 787.0,355.7 787.4,354.6 787.8,353.5 788.2,354.5 788.6,354.1 789.0,354.0 789.4,354.5 789.8,353.2 790.2,352.5 790.6,353.9 791.0,356.5 791.4,358.4 791.8,357.5 792.2,354.9 792.6,353.8 793.0,355.0 793.4,355.1 793.8,354.8 794.2,356.9 794.6,356.5 795.0,355.4 795.4,357.8 795.8,359.4 796.2,359.4 796.6,359.2 797.0,359.2 797.4,360.4 797.8,360.2 798.2,359.2 798.6,359.6 799.0,358.6 799.4,356.5 799.8,355.3 800.2,356.4 800.6,357.0 801.0,356.0 801.4,357.4 801.8,358.5 802.2,356.0 802.6,353.4 803.0,355.6 803.4,357.5 803.8,356.4 804.2,354.6 804.6,353.7 805.0,355.7 805.4,357.3 805.8,356.5 806.2,355.3 806.6,356.6 807.0,358.1 807.4,357.6 807.8,355.8 808.2,357.3 808.6,359.8 809.0,357.1 809.4,355.1 809.8,355.3 810.2,356.3 810.6,359.9 811.0,360.7 811.4,356.1 811.8,354.7 812.2,358.8 812.6,360.9 813.0,360.7 813.4,359.3 813.8,356.7 814.2,355.1 814.6,353.6 815.0,354.6 815.4,357.2 815.8,359.0 816.2,360.8 816.6,358.9 817.0,357.0 817.4,359.7 817.8,361.6 818.2,358.7 818.6,356.1 819.0,358.2 819.4,359.7 819.8,357.1 820.2,356.6 820.6,358.6 821.0,357.6 821.4,355.4 821.8,355.3 822.2,356.1 822.6,357.4 823.0,358.9 823.4,360.1 823.8,358.4 824.2,355.8 824.6,357.7 825.0,359.8 825.4,359.9 825.8,359.2 826.2,356.7 826.6,356.3 827.0,357.4 827.4,354.8 827.8,354.0 828.2,356.9 828.6,357.0 829.0,355.3 829.4,354.0 829.8,353.3 830.2,354.3 830.6,356.4 831.0,356.0 831.4,354.8 831.8,356.0 832.2,355.4 832.6,355.5 833.0,357.7 833.4,356.7 833.8,356.5 834.2,358.5 834.6,357.7 835.0,357.3 835.4,358.9 835.8,359.1 836.2,358.2 836.6,357.5 837.0,357.1 837.4,356.6 837.8,355.2 838.2,354.7 838.6,354.1 839.0,351.6 839.4,348.9 839.8,345.7 840.2,341.8 840.6,337.6 841.0,333.2 841.4,328.9 841.8,325.1 842.2,322.2 842.6,320.7 843.0,320.6 843.4,321.7 843.8,323.8 844.2,326.6 844.6,330.0 845.0,333.7 845.4,337.3 845.8,340.9 846.2,344.2 846.6,347.0 847.0,349.4 847.4,351.6 847.8,353.2 848.2,353.6 848.6,353.6 849.0,354.5 849.4,355.9 849.8,356.2 850.2,357.5 850.6,359.7 851.0,361.0 851.4,360.5 851.8,357.8 852.2,356.8 852.6,358.9 853.0,360.1 853.4,360.0 853.8,359.9 854.2,360.6 854.6,360.9 855.0,360.3 855.4,359.9 855.8,359.4 856.2,359.1 856.6,359.6 857.0,359.7 857.4,359.7 857.8,360.6 858.2,360.4 858.6,359.8 859.0,358.9 859.4,359.6 859.8,361.3 860.2,358.6 860.6,355.6 861.0,356.1 861.4,359.2 861.8,361.9 862.2,361.4 862.6,359.4 863.0,358.0 863.4,358.9 863.8,361.4 864.2,361.5 864.6,359.5 865.0,359.3 865.4,358.8 865.8,357.3 866.2,357.6 866.6,356.4 867.0,355.3 867.4,358.3 867.8,359.8 868.2,357.4 868.6,357.5 869.0,360.3 869.4,361.3 869.8,361.8 870.2,361.5 870.6,359.8 871.0,359.6 871.4,359.1 871.8,358.5 872.2,358.7 872.6,359.7 873.0,360.8 873.4,359.9 873.8,358.6 874.2,358.7 874.6,358.6 875.0,357.4 875.4,357.4 875.8,358.1 876.2,358.0 876.6,357.9 877.0,359.6 877.4,362.9 877.8,363.2 878.2,360.8 878.6,361.1 879.0,362.9 879.4,361.3 879.8,359.5 880.2,359.8 880.6,361.0 881.0,361.6 881.4,361.9 881.8,361.8 882.2,360.0 882.6,358.7 883.0,359.6 883.4,361.0 883.8,360.0 884.2,359.5 884.6,361.6 885.0,361.0 885.4,358.1 885.8,356.6 886.2,356.7 886.6,358.2 887.0,358.8 887.4,358.0 887.8,357.5 888.2,357.4 888.6,358.1 889.0,360.6 889.4,360.4 889.8,357.2 890.2,357.1 890.6,358.8 891.0,358.8 891.4,357.9 891.8,357.3 892.2,357.9 892.6,359.5 893.0,359.7 893.4,359.2 893.8,359.4 894.2,357.8 894.6,356.9 895.0,359.1 895.4,359.9 895.8,359.9 896.2,361.5 896.6,360.9 897.0,357.7 897.4,358.2 897.8,362.0 898.2,361.9 898.6,358.1 899.0,356.1 899.4,356.7 899.8,356.5 900.2,356.1 900.6,356.6 901.0,355.9 901.4,356.3 901.8,357.5 902.2,356.7 902.6,356.3 903.0,356.4 903.4,355.6 903.8,354.5 904.2,353.7 904.6,353.6 905.0,354.1 905.4,353.9 905.8,353.6 906.2,354.3 906.6,355.6 907.0,356.9 907.4,358.5 907.8,358.8 908.2,357.6 908.6,356.8 909.0,356.8 909.4,358.1 909.8,361.0 910.2,362.9 910.6,359.5 911.0,355.4 911.4,356.5 911.8,357.7 912.2,356.5 912.6,356.5 913.0,358.1 913.4,359.2 913.8,358.4 914.2,358.2 914.6,359.2 915.0,358.5 915.4,356.8 915.8,356.0 916.2,357.3 916.6,358.2 917.0,357.0 917.4,358.3 917.8,359.8 918.2,359.2 918.6,358.3 919.0,358.5 919.4,361.0 919.8,361.8 920.2,358.8 920.6,355.7 921.0,356.8 921.4,360.7 921.8,362.0 922.2,360.9 922.6,359.7 923.0,357.8 923.4,357.0 923.8,357.0 924.2,355.9 924.6,354.9 925.0,354.9 925.4,354.0 925.8,352.4 926.2,351.6 926.6,351.4 927.0,351.0 927.4,351.0 927.8,352.0 928.2,352.8 928.6,353.8 929.0,355.4 929.4,355.8 929.8,355.7 930.2,356.2 930.6,356.1 931.0,356.7 931.4,357.9 931.8,357.7 932.2,358.8 932.6,361.4 933.0,361.9 933.4,361.1 933.8,360.6 934.2,361.1 934.6,361.4 935.0,361.4 935.4,361.0 935.8,358.7 936.2,356.9 936.6,356.5 937.0,357.8 937.4,360.5 937.8,361.0 938.2,359.0 938.6,358.2 939.0,357.9 939.4,356.7 939.8,356.7 940.2,356.9 940.6,356.5 941.0,357.8 941.4,358.5 941.8,357.2 942.2,356.0 942.6,357.5 943.0,359.5 943.4,359.3 943.8,360.4 944.2,360.3 944.6,357.8 945.0,357.5 945.4,359.8 945.8,359.8 946.2,357.2 946.6,356.5 947.0,356.2 947.4,354.9 947.8,352.5 948.2,349.6 948.6,346.2 949.0,342.5 949.4,338.2 949.8,333.6 950.2,329.0 950.6,324.9 951.0,321.5 951.4,319.2 951.8,318.5 952.2,319.0 952.6,320.5 953.0,322.9 953.4,325.9 953.8,329.4 954.2,333.1 954.6,336.8 955.0,340.5 955.4,343.8 955.8,346.8 956.2,349.5 956.6,351.7 957.0,353.9 957.4,355.8 957.8,356.2 958.2,356.4 958.6,357.5 959.0,359.0 959.4,359.9 959.8,360.3 960.2,360.2 960.6,359.4 961.0,358.4 961.4,358.1 961.8,359.7 962.2,360.1 962.6,360.0 963.0,361.5 963.4,359.6 963.8,356.5 964.2,357.0 964.6,358.7 965.0,362.2 965.4,363.9 965.8,361.1 966.2,359.6 966.6,360.0 967.0,360.9 967.4,362.2 967.8,361.7 968.2,360.8 968.6,361.1 969.0,360.2 969.4,360.8 969.8,362.6 970.2,361.5 970.6,359.0 971.0,358.3 971.4,359.1 971.8,360.7 972.2,361.0 972.6,359.6 973.0,360.5 973.4,361.8 973.8,361.6 974.2,361.9 974.6,362.1 975.0,361.2 975.4,360.2 975.8,359.8 976.2,358.1 976.6,356.1 977.0,355.1 977.4,353.7 977.8,352.0 978.2,350.5 978.6,349.4 979.0,348.7 979.4,348.4 979.8,348.5 980.2,349.0 980.6,350.1 981.0,351.3 981.4,352.4 981.8,353.5 982.2,354.6 982.6,355.5 983.0,356.8 983.4,358.1 983.8,358.3 984.2,357.9 984.6,358.4 985.0,359.2 985.4,361.4 985.8,363.8 986.2,362.8 986.6,359.8 987.0,357.5 987.4,356.7 987.8,358.2 988.2,360.4 988.6,360.7 989.0,360.3 989.4,360.5 989.8,362.0 990.2,362.9 990.6,361.1 991.0,359.7 991.4,360.5 991.8,361.2 992.2,359.6 992.6,357.9 993.0,357.4 993.4,358.6 993.8,362.8 994.2,364.6 994.6,362.4 995.0,362.1 995.4,361.5 995.8,359.6 996.2,359.9 996.6,360.2 997.0,361.4 997.4,362.1 997.8,360.1 998.2,360.5 998.6,361.3 999.0,360.4 999.4,361.1 999.8,361.8 1000.2,361.2 1000.6,360.9 1001.0,359.5 1001.4,358.4 1001.8,359.9 1002.2,360.6 1002.6,359.2 1003.0,357.5 1003.4,356.1 1003.8,355.6 1004.2,355.3 1004.6,355.3 1005.0,355.5 1005.4,355.4 1005.8,355.2 1006.2,355.3 1006.6,356.0 1007.0,356.9 1007.4,357.0 1007.8,358.1 1008.2,359.4 1008.6,358.5 1009.0,357.6 1009.4,359.1 1009.8,362.3 1010.2,363.9 1010.6,361.9 1011.0,359.8 1011.4,360.5 1011.8,361.5 1012.2,361.5 1012.6,363.5 1013.0,364.2 1013.4,362.7 1013.8,362.6 1014.2,363.8 1014.6,363.1 1015.0,361.6 1015.4,361.8 1015.8,360.9 1016.2,359.8 1016.6,360.6 1017.0,360.2 1017.4,358.4 1017.8,357.4 1018.2,359.6 1018.6,363.9 1019.0,365.4 1019.4,364.3 1019.8,362.9 1020.2,361.1 1020.6,360.8 1021.0,360.6 1021.4,359.0 1021.8,358.9 1022.2,360.2 1022.6,359.9 1023.0,359.5 1023.4,360.6 1023.8,361.6 1024.2,362.2 1024.6,361.4 1025.0,360.5 1025.4,360.7 1025.8,360.1 1026.2,359.4 1026.6,360.0 1027.0,361.4 1027.4,362.0 1027.8,360.7 1028.2,358.3 1028.6,357.9 1029.0,358.3 1029.4,358.0 1029.8,357.2 1030.2,356.8 1030.6,356.5 1031.0,355.6 1031.4,354.7 1031.8,354.5 1032.2,353.8 1032.6,353.0 1033.0,352.5 1033.4,352.1 1033.8,352.0 1034.2,351.9 1034.6,351.9 1035.0,352.2 1035.4,352.7 1035.8,353.4 1036.2,354.2 1036.6,354.7 1037.0,354.6 1037.4,354.5 1037.8,355.5 1038.2,356.5 1038.6,358.0 1039.0,359.7 1039.4,359.6 1039.8,359.1 1040.2,359.2 1040.6,359.4 1041.0,359.1 1041.4,358.7 1041.8,359.6 1042.2,361.4 1042.6,361.9 1043.0,361.7 1043.4,361.0 1043.8,360.5 1044.2,360.8 1044.6,361.7 1045.0,362.3 1045.4,361.1 1045.8,359.4 1046.2,360.3 1046.6,362.2 1047.0,361.2 1047.4,361.0 1047.8,363.1 1048.2,363.4 1048.6,361.7 1049.0,361.9 1049.4,363.6 1049.8,362.9 1050.2,361.3 1050.6,359.7 1051.0,357.7 1051.4,358.1 1051.8,360.2 1052.2,360.7 1052.6,359.2 1053.0,357.6 1053.4,357.2 1053.8,357.2 1054.2,356.9 1054.6,356.7 1055.0,355.7 1055.4,353.3 1055.8,350.2 1056.2,346.8 1056.6,343.2 1057.0,339.3 1057.4,335.3 1057.8,331.4 1058.2,328.0 1058.6,325.4 1059.0,323.8 1059.4,323.4 1059.8,324.1 1060.2,325.6 1060.6,327.7 1061.0,330.4 1061.4,333.5 1061.8,336.8 1062.2,340.1 1062.6,343.2 1063.0,346.2 1063.4,348.9 1063.8,351.3 1064.2,353.3 1064.6,355.0 1065.0,356.5 1065.4,357.6 1065.8,358.8 1066.2,359.4 1066.6,359.2 1067.0,359.3 1067.4,360.0 1067.8,360.8 1068.2,360.7 1068.6,360.5 1069.0,359.4 1069.4,359.1 1069.8,360.2 1070.2,360.4 1070.6,361.2 1071.0,360.7 1071.4,358.4 1071.8,358.2 1072.2,359.1 1072.6,358.7 1073.0,359.3 1073.4,360.9 1073.8,361.3 1074.2,361.0 1074.6,360.8 1075.0,360.6 1075.4,360.1 1075.8,360.8 1076.2,361.7 1076.6,361.1 1077.0,359.7 1077.4,359.3 1077.8,360.6 1078.2,361.2 1078.6,360.2 1079.0,359.9 1079.4,362.1 1079.8,363.2 1080.2,361.2 1080.6,360.0 1081.0,358.5 1081.4,356.9 1081.8,356.7 1082.2,356.4 1082.6,355.2 1083.0,353.3 1083.4,351.2 1083.8,349.2 1084.2,346.9 1084.6,344.5 1085.0,342.2 1085.4,340.2 1085.8,338.4 1086.2,337.2 1086.6,336.5 1087.0,336.5 1087.4,336.9 1087.8,337.9 1088.2,339.2 1088.6,340.8 1089.0,342.6 1089.4,344.5 1089.8,346.4 1090.2,348.4 1090.6,350.3 1091.0,352.0 1091.4,353.3 1091.8,354.3 1092.2,355.2 1092.6,356.2 1093.0,357.6 1093.4,358.3 1093.8,358.4 1094.2,360.2 1094.6,361.5 1095.0,362.0 1095.4,363.7 1095.8,363.4 1096.2,361.4 1096.6,362.0 1097.0,362.7 1097.4,362.7 1097.8,362.3 1098.2,360.7 1098.6,359.6 1099.0,359.5 1099.4,359.9 1099.8,359.9 1100.2,358.8 1100.6,359.6 1101.0,361.6 1101.4,362.1 1101.8,360.8 1102.2,358.8 1102.6,359.0 1103.0,360.4 1103.4,361.0 1103.8,361.6 1104.2,362.6 1104.6,362.3 1105.0,361.8 1105.4,362.3 1105.8,362.5 1106.2,362.4 1106.6,363.4 1107.0,363.4 1107.4,362.4 1107.8,362.4 1108.2,363.4 1108.6,364.3 1109.0,364.2 1109.4,363.7 1109.8,363.5 1110.2,363.6 1110.6,363.8 1111.0,361.4 1111.4,360.1 1111.8,362.6 1112.2,362.3 1112.6,360.4 1113.0,360.4 1113.4,362.2 1113.8,364.8 1114.2,363.2 1114.6,360.7 1115.0,361.6 1115.4,363.3 1115.8,363.8 1116.2,360.6 1116.6,358.5 1117.0,360.6 1117.4,361.5 1117.8,360.0 1118.2,359.4 1118.6,362.6 1119.0,363.6 1119.4,361.7 1119.8,362.2 1120.2,364.0 1120.6,365.5 1121.0,364.4 1121.4,363.2 1121.8,364.1 1122.2,363.4 1122.6,362.4 1123.0,362.6 1123.4,361.0 1123.8,361.0 1124.2,363.6 1124.6,362.8 1125.0,361.5 1125.4,361.3 1125.8,359.6 1126.2,359.2 1126.6,360.2 1127.0,360.8 1127.4,361.7 1127.8,361.9 1128.2,361.0 1128.6,360.7 1129.0,360.1 1129.4,359.0 1129.8,358.5 1130.2,358.2 1130.6,358.1 1131.0,357.7 1131.4,356.7 1131.8,356.1 1132.2,355.9 1132.6,355.9 1133.0,356.0 1133.4,356.0 1133.8,356.1 1134.2,356.8 1134.6,357.2 1135.0,357.6 1135.4,358.3 1135.8,358.6 1136.2,358.9 1136.6,359.4 1137.0,359.5 1137.4,359.9 1137.8,361.4 1138.2,363.4 1138.6,363.9 1139.0,363.4 1139.4,363.9 1139.8,363.5 1140.2,363.6 1140.6,364.2 1141.0,365.3 1141.4,366.3 1141.8,364.1 1142.2,362.5 1142.6,363.7 1143.0,363.2 1143.4,360.4 1143.8,359.6 1144.2,363.0 1144.6,365.5 1145.0,365.5 1145.4,366.2 1145.8,366.1 1146.2,365.0 1146.6,364.0 1147.0,362.7 1147.4,363.0 1147.8,364.8 1148.2,363.7 1148.6,362.1 1149.0,362.8 1149.4,362.8 1149.8,362.5 1150.2,363.2 1150.6,362.1 1151.0,360.3 1151.4,362.0 1151.8,364.0 1152.2,362.7 1152.6,363.1 1153.0,364.8 1153.4,363.8 1153.8,361.9 1154.2,362.2 1154.6,363.8 1155.0,364.1 1155.4,362.2 1155.8,362.0 1156.2,364.6 1156.6,365.7 1157.0,364.1 1157.4,363.0 1157.8,363.4 1158.2,364.2 1158.6,363.5 1159.0,362.1 1159.4,362.3 1159.8,362.2 1160.2,361.5 1160.6,362.3 1161.0,362.4 1161.4,362.0 1161.8,361.4 1162.2,360.5 1162.6,360.7 1163.0,361.1 1163.4,360.9 1163.8,360.1 1164.2,358.5 1164.6,357.9 1165.0,358.3 1165.4,358.8 1165.8,359.0 1166.2,358.4 1166.6,358.1 1167.0,358.4 1167.4,358.2 1167.8,358.9 1168.2,360.8 1168.6,361.4 1169.0,361.5 1169.4,362.5 1169.8,363.5 1170.2,363.6 1170.6,363.0 1171.0,361.1 1171.4,361.2 1171.8,364.5 1172.2,365.8 1172.6,364.6 1173.0,363.7 1173.4,362.9 1173.8,363.2 1174.2,365.0 1174.6,365.2 1175.0,364.4 1175.4,364.6 1175.8,365.0 1176.2,364.9 1176.6,363.6 1177.0,362.3 1177.4,364.4 1177.8,365.9 1178.2,363.7 1178.6,363.1 1179.0,364.8 1179.4,365.3 1179.8,363.4 1180.2,361.6 1180.6,361.8 1181.0,361.2 1181.4,361.5 1181.8,363.0 1182.2,363.5 1182.6,366.0 1183.0,368.3 1183.4,366.6 1183.8,363.9 1184.2,361.8 1184.6,360.8 1185.0,360.8 1185.4,360.8 1185.8,360.7 1186.2,361.2 1186.6,361.6 1187.0,360.5 1187.4,359.5 1187.8,360.5 1188.2,362.7 1188.6,364.0 1189.0,365.1 1189.4,364.8 1189.8,363.7 1190.2,362.7 1190.6,363.0 1191.0,365.9 1191.4,365.9 1191.8,362.7 1192.2,361.5 1192.6,361.5 1193.0,360.2 1193.4,361.2 1193.8,363.5 1194.2,363.2 1194.6,363.0 1195.0,363.2 1195.4,362.4 1195.8,362.3 1196.2,361.9 1196.6,361.8 1197.0,362.4 1197.4,363.2 1197.8,364.5 1198.2,364.8 1198.6,364.5 1199.0,363.2 1199.4,362.3 1199.8,360.9 1200.2,360.5 1200.6,362.7 1201.0,363.1 1201.4,362.5 1201.8,363.2 1202.2,362.8 1202.6,362.9 1203.0,364.0 1203.4,362.8 1203.8,362.1 1204.2,364.3 1204.6,364.5 1205.0,362.1 1205.4,360.2 1205.8,359.2 1206.2,360.4 1206.6,362.6 1207.0,362.1 1207.4,360.9 1207.8,362.6 1208.2,364.5 1208.6,363.2 1209.0,362.9 1209.4,364.7 1209.8,364.5 1210.2,362.9 1210.6,361.2 1211.0,359.8 1211.4,360.1 1211.8,361.4 1212.2,362.6 1212.6,363.7 1213.0,364.1 1213.4,363.8 1213.8,362.7 1214.2,360.4 1214.6,359.1 1215.0,360.2 1215.4,360.9 1215.8,361.3 1216.2,361.4 1216.6,360.4 1217.0,360.6 1217.4,362.2 1217.8,362.6 1218.2,362.5 1218.6,363.0 1219.0,362.3 1219.4,361.5 1219.8,363.6 1220.2,365.0 1220.6,364.1 1221.0,364.9 1221.4,366.5 1221.8,365.3 1222.2,364.2 1222.6,365.1 1223.0,364.2 1223.4,362.5 1223.8,362.9 1224.2,363.6 1224.6,363.3 1225.0,363.6 1225.4,364.0 1225.8,362.2 1226.2,361.6 1226.6,363.7 1227.0,365.0 1227.4,364.1 1227.8,362.9 1228.2,363.9 1228.6,365.3 1229.0,364.6 1229.4,362.6 1229.8,362.2 1230.2,361.6 1230.6,360.2 1231.0,361.6 1231.4,363.4 1231.8,362.4 1232.2,362.0 1232.6,363.7 1233.0,364.5 1233.4,363.3 1233.8,361.6 1234.2,361.6 1234.6,361.7 1235.0,360.2 1235.4,359.6 1235.8,360.0 1236.2,359.2 1236.6,357.2 1237.0,355.9 1237.4,355.5 1237.8,355.3 1238.2,355.1 1238.6,354.9 1239.0,354.7 1239.4,354.7 1239.8,355.0 1240.2,355.4 1240.6,356.1 1241.0,357.2 1241.4,358.8 1241.8,359.3 1242.2,358.8 1242.6,359.0 1243.0,359.3 1243.4,359.3 1243.8,359.8 1244.2,361.2 1244.6,362.5 1245.0,361.9 1245.4,360.6 1245.8,359.9 1246.2,360.4 1246.6,361.8 1247.0,363.2 1247.4,363.7 1247.8,363.4 1248.2,364.0 1248.6,363.9 1249.0,361.8 1249.4,359.5 1249.8,360.5 1250.2,363.9 1250.6,365.3 1251.0,364.6 1251.4,363.8 1251.8,362.7 1252.2,361.8 1252.6,362.5 1253.0,364.0 1253.4,363.9 1253.8,362.7 1254.2,362.7 1254.6,363.7 1255.0,363.2 1255.4,363.2 1255.8,364.8 1256.2,364.4 1256.6,364.1 1257.0,365.5 1257.4,365.2 1257.8,363.8 1258.2,362.9 1258.6,361.5 1259.0,360.0 1259.4,360.5 1259.8,361.9 1260.2,361.8 1260.6,362.1 1261.0,361.7 1261.4,361.1 1261.8,362.3 1262.2,363.6 1262.6,365.1 1263.0,365.9 1263.4,365.1 1263.8,363.9 1264.2,363.2 1264.6,363.6 1265.0,363.3 1265.4,362.4 1265.8,362.6"/><rect x="109.0" y="864" width="7" height="16" fill="#000"/><rect x="205.0" y="873" width="7" height="7" fill="#000"/><rect x="301.0" y="864" width="7" height="16" fill="#000"/><rect x="397.0" y="873" width="7" height="7" fill="#000"/><rect x="493.0" y="864" width="7" height="16" fill="#000"/><rect x="589.0" y="873" width="7" height="7" fill="#000"/><rect x="685.0" y="864" width="7" height="16" fill="#000"/><rect x="781.0" y="873" width="7" height="7" fill="#000"/><rect x="877.0" y="864" width="7" height="16" fill="#000"/><rect x="973.0" y="873" width="7" height="7" fill="#000"/><rect x="1069.0" y="864" width="7" height="16" fill="#000"/><rect x="1165.0" y="873" width="7" height="7" fill="#000"/><rect x="1261.0" y="864" width="7" height="16" fill="#000"/><text x="112.5" y="943" text-anchor="middle" font-family="Liberation Serif" font-weight="bold" font-size="56">20</text><text x="304.5" y="943" text-anchor="middle" font-family="Liberation Serif" font-weight="bold" font-size="56">30</text><text x="496.5" y="943" text-anchor="middle" font-family="Liberation Serif" font-weight="bold" font-size="56">40</text><text x="688.5" y="943" text-anchor="middle" font-family="Liberation Serif" font-weight="bold" font-size="56">50</text><text x="880.5" y="943" text-anchor="middle" font-family="Liberation Serif" font-weight="bold" font-size="56">60</text><text x="1072.5" y="943" text-anchor="middle" font-family="Liberation Serif" font-weight="bold" font-size="56">70</text><text x="1264.5" y="943" text-anchor="middle" font-family="Liberation Serif" font-weight="bold" font-size="56">80</text><g font-family="Liberation Serif" font-weight="bold" font-size="56"><text x="641" y="1015">2</text><text transform="translate(668.8,1015) scale(1.087,1)">θ</text><text x="699.2" y="1015">/</text></g><circle cx="724.5" cy="987" r="8" fill="none" stroke="#000" stroke-width="3.6"/><text transform="translate(58,456) rotate(-90)" text-anchor="middle" font-family="Liberation Serif" font-weight="bold" font-size="56">Intensity/a.u.</text><text transform="translate(166,274)" font-family="Liberation Serif" font-size="44">SLM</text><text transform="translate(152,692)" font-family="Liberation Serif" font-size="44.3">Powder</text><circle cx="357.5" cy="244" r="9.5" fill="#000"/><circle cx="396.5" cy="222" r="9.5" fill="#000"/><circle cx="439.5" cy="76.4" r="9.5" fill="#000"/><circle cx="505.5" cy="299.5" r="9.5" fill="#000"/><circle cx="659.5" cy="289.4" r="9.5" fill="#000"/><circle cx="847.5" cy="296.5" r="9.5" fill="#000"/><circle cx="952.5" cy="303.4" r="9.5" fill="#000"/><circle cx="1058.6" cy="295.4" r="9.5" fill="#000"/><circle cx="1090.4" cy="298.2" r="9.5" fill="#000"/><rect x="415" y="250.7" width="18" height="18" fill="#000"/><rect x="975" y="321" width="18" height="18" fill="#000"/><circle cx="1113.5" cy="92.5" r="9.5" fill="#000"/><text transform="translate(1126.5,105)" font-family="Liberation Serif" font-size="44">-Mg</text><rect x="1067" y="146" width="18" height="18" fill="#000"/><text transform="translate(1086.5,163.8)" font-family="Liberation Serif" font-size="41.5">-Mg</text><text transform="translate(1156.5,174) scale(1,1.1)" font-family="Liberation Serif" font-size="24">17</text><text transform="translate(1183.5,163.8)" font-family="Liberation Serif" font-size="40.5">Al</text><text transform="translate(1225.5,173.5) scale(1,1.1)" font-family="Liberation Serif" font-size="24">12</text></svg>
</body></html>
